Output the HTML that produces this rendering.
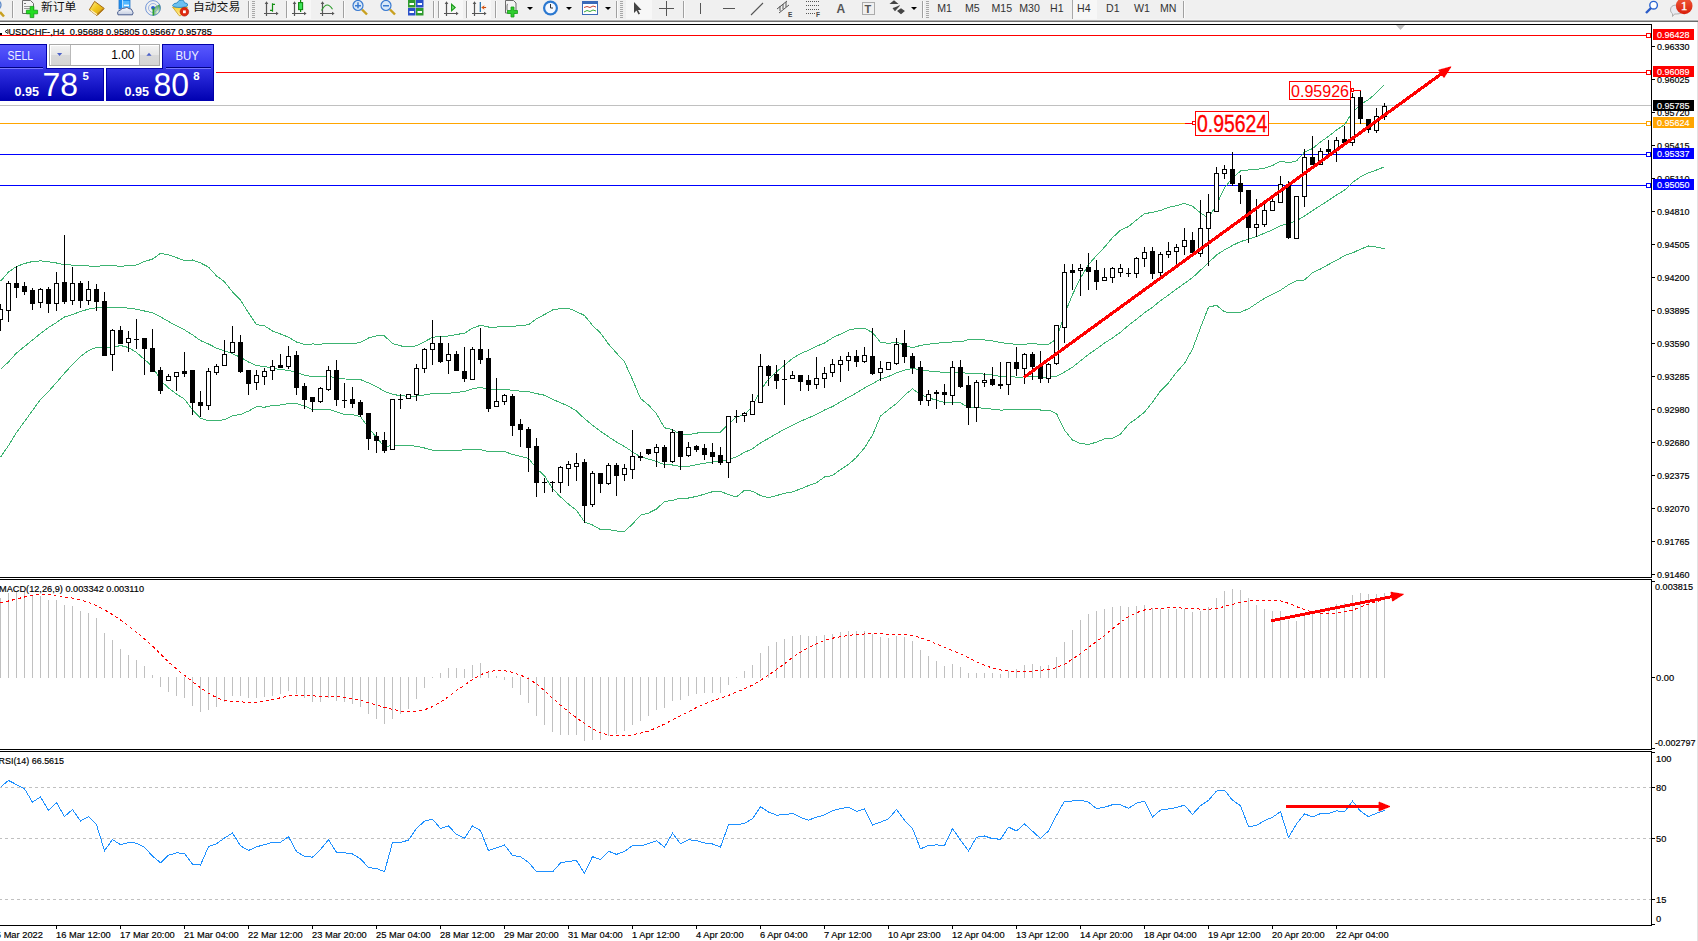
<!DOCTYPE html><html><head><meta charset="utf-8"><title>USDCHF-,H4</title><style>html,body{margin:0;padding:0;background:#fff;overflow:hidden;width:1698px;height:941px}svg text{white-space:pre}</style></head><body><svg width="1698" height="941" viewBox="0 0 1698 941" style="position:absolute;left:0;top:0">
<defs><linearGradient id="gTop" x1="0" y1="0" x2="0" y2="1"><stop offset="0" stop-color="#5a5aff"/><stop offset="1" stop-color="#3434ec"/></linearGradient><linearGradient id="gBot" x1="0" y1="0" x2="0" y2="1"><stop offset="0" stop-color="#3232e4"/><stop offset="1" stop-color="#0000b0"/></linearGradient><linearGradient id="gBtn" x1="0" y1="0" x2="0" y2="1"><stop offset="0" stop-color="#f2f2f2"/><stop offset="0.45" stop-color="#e6e6e6"/><stop offset="0.5" stop-color="#d9d9d9"/><stop offset="1" stop-color="#d4d4d4"/></linearGradient><linearGradient id="gBadge" x1="0" y1="0" x2="0" y2="1"><stop offset="0" stop-color="#f05a3a"/><stop offset="1" stop-color="#d81e0a"/></linearGradient><clipPath id="cMain"><rect x="0" y="25" width="1651" height="552"/></clipPath><clipPath id="cMacd"><rect x="0" y="580" width="1651" height="169"/></clipPath><clipPath id="cRsi"><rect x="0" y="752" width="1651" height="173"/></clipPath></defs>
<rect x="0" y="0" width="1698" height="941" fill="#ffffff"/>
<g shape-rendering="crispEdges">
<rect x="0" y="0" width="1698" height="20" fill="#f0f0f0"/>
<rect x="0" y="19" width="1698" height="1" fill="#f4f4f4"/>
<rect x="0" y="20" width="1698" height="1" fill="#b2b2b2"/>
<rect x="0" y="21" width="1698" height="1" fill="#6c6c6c"/>
<rect x="1697" y="22" width="1" height="919" fill="#e3e3e3"/>
</g>
<g shape-rendering="crispEdges">
<rect x="0" y="24" width="1652" height="1" fill="#000"/>
<rect x="0" y="577" width="1652" height="1" fill="#000"/>
<rect x="1651" y="24" width="1" height="554" fill="#000"/>
<rect x="0" y="579" width="1652" height="1" fill="#000"/>
<rect x="0" y="749" width="1652" height="1" fill="#000"/>
<rect x="1651" y="579" width="1" height="171" fill="#000"/>
<rect x="0" y="751" width="1652" height="1" fill="#000"/>
<rect x="0" y="925" width="1652" height="1" fill="#000"/>
<rect x="1651" y="751" width="1" height="175" fill="#000"/>
</g>
<g clip-path="url(#cMain)">
<g shape-rendering="crispEdges">
<rect x="0" y="35" width="1646" height="1" fill="#ff0000"/>
<rect x="1646.5" y="33.5" width="4" height="4" fill="#fff" stroke="#ff0000" stroke-width="1"/>
<rect x="0" y="72" width="1646" height="1" fill="#ff0000"/>
<rect x="1646.5" y="70.5" width="4" height="4" fill="#fff" stroke="#ff0000" stroke-width="1"/>
<rect x="0" y="105" width="1651" height="1" fill="#c0c0c0"/>
<rect x="0" y="123" width="1646" height="1" fill="#ffa500"/>
<rect x="1646.5" y="121.5" width="4" height="4" fill="#fff" stroke="#ffa500" stroke-width="1"/>
<rect x="0" y="154" width="1646" height="1" fill="#0000ff"/>
<rect x="1646.5" y="152.5" width="4" height="4" fill="#fff" stroke="#0000ff" stroke-width="1"/>
<rect x="0" y="185" width="1646" height="1" fill="#0000ff"/>
<rect x="1646.5" y="183.5" width="4" height="4" fill="#fff" stroke="#0000ff" stroke-width="1"/>
</g>
<polygon points="1396,25 1405,25 1400.5,30" fill="#c0c0c0"/>
<polyline points="0.5,281.3 8.5,272.0 16.5,266.5 24.5,263.5 32.5,261.5 40.5,260.9 48.5,261.7 56.5,263.0 64.5,264.7 72.5,265.1 80.5,265.5 88.5,266.0 96.5,266.5 104.5,265.5 112.5,265.5 120.5,266.5 128.5,265.5 136.5,265.0 144.5,261.5 152.5,259.1 160.5,253.4 168.5,254.9 176.5,257.6 184.5,260.7 192.5,260.0 200.5,262.9 208.5,267.1 216.5,275.9 224.5,281.8 232.5,291.8 240.5,300.1 248.5,312.8 256.5,324.7 264.5,325.8 272.5,331.0 280.5,334.0 288.5,337.2 296.5,342.0 304.5,344.4 312.5,344.0 320.5,344.1 328.5,343.7 336.5,343.6 344.5,343.7 352.5,343.6 360.5,342.5 368.5,338.0 376.5,335.9 384.5,336.0 392.5,343.4 400.5,345.9 408.5,346.8 416.5,345.8 424.5,341.7 432.5,337.3 440.5,336.4 448.5,336.0 456.5,334.5 464.5,333.2 472.5,328.1 480.5,325.3 488.5,327.0 496.5,327.0 504.5,326.9 512.5,326.3 520.5,325.6 528.5,324.7 536.5,318.8 544.5,314.5 552.5,310.0 560.5,308.5 568.5,308.3 576.5,311.6 584.5,315.5 592.5,325.4 600.5,333.0 608.5,344.1 616.5,353.1 624.5,361.8 632.5,379.7 640.5,398.5 648.5,405.0 656.5,413.8 664.5,427.8 672.5,429.6 680.5,434.7 688.5,434.7 696.5,433.1 704.5,432.4 712.5,432.3 720.5,432.1 728.5,423.9 736.5,417.0 744.5,414.5 752.5,406.3 760.5,390.3 768.5,379.2 776.5,371.7 784.5,365.1 792.5,358.4 800.5,353.7 808.5,350.2 816.5,346.1 824.5,343.1 832.5,337.8 840.5,334.1 848.5,330.2 856.5,328.5 864.5,328.2 872.5,332.6 880.5,342.3 888.5,343.3 896.5,342.3 904.5,345.0 912.5,347.9 920.5,345.4 928.5,344.2 936.5,343.3 944.5,342.5 952.5,342.0 960.5,341.9 968.5,339.7 976.5,339.7 984.5,339.9 992.5,340.9 1000.5,342.6 1008.5,343.5 1016.5,344.5 1024.5,344.2 1032.5,343.6 1040.5,344.3 1048.5,344.4 1056.5,339.0 1064.5,314.0 1072.5,294.6 1080.5,277.9 1088.5,264.7 1096.5,255.5 1104.5,247.2 1112.5,237.7 1120.5,230.1 1128.5,226.6 1136.5,220.0 1144.5,213.6 1152.5,212.4 1160.5,210.5 1168.5,207.3 1176.5,205.8 1184.5,203.3 1192.5,206.3 1200.5,212.8 1208.5,218.1 1216.5,204.7 1224.5,187.9 1232.5,178.0 1240.5,171.0 1248.5,169.9 1256.5,169.5 1264.5,168.1 1272.5,165.5 1280.5,161.1 1288.5,162.8 1296.5,160.9 1304.5,152.1 1312.5,148.6 1320.5,141.9 1328.5,136.4 1336.5,130.0 1344.5,124.8 1352.5,112.1 1360.5,104.6 1368.5,99.6 1376.5,92.8 1384.5,84.8" fill="none" stroke="#3cb371" stroke-width="1" shape-rendering="crispEdges"/>
<polyline points="0.5,369.3 8.5,362.0 16.5,353.0 24.5,346.5 32.5,340.0 40.5,333.5 48.5,327.5 56.5,322.5 64.5,317.0 72.5,314.5 80.5,311.5 88.5,309.1 96.5,307.7 104.5,307.3 112.5,307.3 120.5,307.7 128.5,308.1 136.5,309.3 144.5,311.0 152.5,312.9 160.5,316.9 168.5,321.5 176.5,325.8 184.5,329.9 192.5,334.8 200.5,340.6 208.5,344.0 216.5,348.1 224.5,350.8 232.5,353.7 240.5,357.3 248.5,362.0 256.5,365.6 264.5,366.5 272.5,368.3 280.5,369.5 288.5,370.4 296.5,372.7 304.5,375.2 312.5,376.7 320.5,376.7 328.5,376.4 336.5,377.7 344.5,379.0 352.5,379.1 360.5,379.6 368.5,382.9 376.5,386.6 384.5,391.4 392.5,394.3 400.5,395.7 408.5,396.3 416.5,396.0 424.5,394.9 432.5,393.7 440.5,393.4 448.5,393.3 456.5,392.5 464.5,391.5 472.5,388.9 480.5,387.4 488.5,389.3 496.5,389.5 504.5,389.2 512.5,390.4 520.5,391.1 528.5,391.5 536.5,393.6 544.5,395.2 552.5,399.3 560.5,402.7 568.5,406.2 576.5,411.0 584.5,418.7 592.5,425.2 600.5,431.3 608.5,436.8 616.5,442.0 624.5,446.5 632.5,451.9 640.5,456.8 648.5,459.1 656.5,461.4 664.5,464.7 672.5,465.0 680.5,466.4 688.5,466.4 696.5,464.7 704.5,463.3 712.5,462.0 720.5,461.7 728.5,459.3 736.5,456.9 744.5,452.3 752.5,448.8 760.5,442.9 768.5,438.4 776.5,433.7 784.5,429.2 792.5,425.1 800.5,421.3 808.5,417.9 816.5,414.4 824.5,410.0 832.5,406.6 840.5,401.8 848.5,397.3 856.5,392.9 864.5,388.0 872.5,383.8 880.5,379.2 888.5,376.5 896.5,372.9 904.5,370.1 912.5,368.4 920.5,370.0 928.5,371.0 936.5,371.7 944.5,372.5 952.5,372.1 960.5,372.4 968.5,373.5 976.5,373.7 984.5,374.1 992.5,375.1 1000.5,376.4 1008.5,376.7 1016.5,377.1 1024.5,377.0 1032.5,376.6 1040.5,377.1 1048.5,377.2 1056.5,376.3 1064.5,372.1 1072.5,367.3 1080.5,360.7 1088.5,354.5 1096.5,348.9 1104.5,343.0 1112.5,338.0 1120.5,332.2 1128.5,325.4 1136.5,319.2 1144.5,312.8 1152.5,307.2 1160.5,300.7 1168.5,295.1 1176.5,289.1 1184.5,283.4 1192.5,277.7 1200.5,270.2 1208.5,262.6 1216.5,255.0 1224.5,249.9 1232.5,245.4 1240.5,241.6 1248.5,239.3 1256.5,236.5 1264.5,233.2 1272.5,229.9 1280.5,225.7 1288.5,223.8 1296.5,220.8 1304.5,216.0 1312.5,210.6 1320.5,205.5 1328.5,200.4 1336.5,195.1 1344.5,190.2 1352.5,182.5 1360.5,176.9 1368.5,172.8 1376.5,170.0 1384.5,166.8" fill="none" stroke="#3cb371" stroke-width="1" shape-rendering="crispEdges"/>
<polyline points="0.5,457.3 8.5,445.5 16.5,432.5 24.5,421.5 32.5,410.5 40.5,399.5 48.5,391.5 56.5,382.5 64.5,373.2 72.5,364.5 80.5,356.5 88.5,350.5 96.5,347.3 104.5,347.5 112.5,347.5 120.5,345.5 128.5,347.5 136.5,352.5 144.5,359.5 152.5,366.6 160.5,380.3 168.5,388.1 176.5,394.0 184.5,399.1 192.5,409.7 200.5,418.3 208.5,420.9 216.5,420.4 224.5,419.8 232.5,415.7 240.5,414.5 248.5,411.1 256.5,406.6 264.5,407.2 272.5,405.6 280.5,405.0 288.5,403.5 296.5,403.5 304.5,406.0 312.5,409.5 320.5,409.3 328.5,409.1 336.5,411.8 344.5,414.4 352.5,414.6 360.5,416.6 368.5,427.7 376.5,437.4 384.5,446.9 392.5,445.2 400.5,445.6 408.5,445.8 416.5,446.1 424.5,448.0 432.5,450.1 440.5,450.4 448.5,450.6 456.5,450.6 464.5,449.8 472.5,449.7 480.5,449.6 488.5,451.7 496.5,451.9 504.5,451.6 512.5,454.4 520.5,456.5 528.5,458.3 536.5,468.4 544.5,475.8 552.5,488.6 560.5,496.9 568.5,504.1 576.5,510.3 584.5,521.9 592.5,525.0 600.5,529.6 608.5,529.6 616.5,531.0 624.5,531.3 632.5,524.1 640.5,515.2 648.5,513.1 656.5,509.0 664.5,501.5 672.5,500.4 680.5,498.0 688.5,498.0 696.5,496.4 704.5,494.2 712.5,491.7 720.5,491.3 728.5,494.7 736.5,496.9 744.5,490.2 752.5,491.2 760.5,495.6 768.5,497.7 776.5,495.6 784.5,493.2 792.5,491.9 800.5,488.9 808.5,485.6 816.5,482.7 824.5,477.0 832.5,475.5 840.5,469.6 848.5,464.4 856.5,457.3 864.5,447.8 872.5,435.1 880.5,416.1 888.5,409.6 896.5,403.5 904.5,395.2 912.5,388.8 920.5,394.7 928.5,397.9 936.5,400.1 944.5,402.6 952.5,402.2 960.5,402.9 968.5,407.4 976.5,407.8 984.5,408.2 992.5,409.2 1000.5,410.1 1008.5,409.8 1016.5,409.6 1024.5,409.7 1032.5,409.7 1040.5,410.0 1048.5,410.0 1056.5,413.5 1064.5,430.1 1072.5,440.0 1080.5,443.5 1088.5,444.4 1096.5,442.2 1104.5,438.8 1112.5,438.3 1120.5,434.2 1128.5,424.3 1136.5,418.5 1144.5,412.1 1152.5,402.1 1160.5,390.9 1168.5,383.0 1176.5,372.3 1184.5,363.4 1192.5,349.1 1200.5,327.7 1208.5,307.2 1216.5,305.3 1224.5,311.8 1232.5,312.8 1240.5,312.1 1248.5,308.8 1256.5,303.5 1264.5,298.3 1272.5,294.2 1280.5,290.2 1288.5,284.8 1296.5,280.7 1304.5,280.0 1312.5,272.6 1320.5,269.0 1328.5,264.5 1336.5,260.3 1344.5,255.6 1352.5,252.9 1360.5,249.2 1368.5,246.0 1376.5,247.1 1384.5,248.8" fill="none" stroke="#3cb371" stroke-width="1" shape-rendering="crispEdges"/>
<g shape-rendering="crispEdges">
<rect x="0" y="304" width="1" height="27" fill="#000"/>
<rect x="-2" y="309" width="5" height="11" fill="#000"/>
<rect x="-1" y="310" width="3" height="9" fill="#fff"/>
<rect x="8" y="281" width="1" height="41" fill="#000"/>
<rect x="6" y="283" width="5" height="28" fill="#000"/>
<rect x="7" y="284" width="3" height="26" fill="#fff"/>
<rect x="16" y="266" width="1" height="32" fill="#000"/>
<rect x="14" y="283" width="5" height="5" fill="#000"/>
<rect x="24" y="282" width="1" height="13" fill="#000"/>
<rect x="22" y="286" width="5" height="6" fill="#000"/>
<rect x="32" y="288" width="1" height="22" fill="#000"/>
<rect x="30" y="290" width="5" height="14" fill="#000"/>
<rect x="40" y="288" width="1" height="20" fill="#000"/>
<rect x="38" y="289" width="5" height="14" fill="#000"/>
<rect x="39" y="290" width="3" height="12" fill="#fff"/>
<rect x="48" y="287" width="1" height="26" fill="#000"/>
<rect x="46" y="289" width="5" height="15" fill="#000"/>
<rect x="56" y="272" width="1" height="39" fill="#000"/>
<rect x="54" y="283" width="5" height="21" fill="#000"/>
<rect x="55" y="284" width="3" height="19" fill="#fff"/>
<rect x="64" y="235" width="1" height="69" fill="#000"/>
<rect x="62" y="282" width="5" height="20" fill="#000"/>
<rect x="72" y="267" width="1" height="38" fill="#000"/>
<rect x="70" y="283" width="5" height="18" fill="#000"/>
<rect x="71" y="284" width="3" height="16" fill="#fff"/>
<rect x="80" y="281" width="1" height="27" fill="#000"/>
<rect x="78" y="283" width="5" height="18" fill="#000"/>
<rect x="88" y="281" width="1" height="24" fill="#000"/>
<rect x="86" y="289" width="5" height="12" fill="#000"/>
<rect x="87" y="290" width="3" height="10" fill="#fff"/>
<rect x="96" y="284" width="1" height="27" fill="#000"/>
<rect x="94" y="289" width="5" height="13" fill="#000"/>
<rect x="104" y="292" width="1" height="64" fill="#000"/>
<rect x="102" y="301" width="5" height="55" fill="#000"/>
<rect x="112" y="329" width="1" height="42" fill="#000"/>
<rect x="110" y="330" width="5" height="25" fill="#000"/>
<rect x="111" y="331" width="3" height="23" fill="#fff"/>
<rect x="120" y="326" width="1" height="18" fill="#000"/>
<rect x="118" y="330" width="5" height="14" fill="#000"/>
<rect x="128" y="331" width="1" height="21" fill="#000"/>
<rect x="126" y="338" width="5" height="5" fill="#000"/>
<rect x="127" y="339" width="3" height="3" fill="#fff"/>
<rect x="136" y="319" width="1" height="30" fill="#000"/>
<rect x="134" y="339" width="5" height="1" fill="#000"/>
<rect x="144" y="338" width="1" height="37" fill="#000"/>
<rect x="142" y="338" width="5" height="11" fill="#000"/>
<rect x="152" y="329" width="1" height="43" fill="#000"/>
<rect x="150" y="348" width="5" height="24" fill="#000"/>
<rect x="160" y="367" width="1" height="27" fill="#000"/>
<rect x="158" y="370" width="5" height="21" fill="#000"/>
<rect x="168" y="374" width="1" height="7" fill="#000"/>
<rect x="166" y="376" width="5" height="5" fill="#000"/>
<rect x="167" y="377" width="3" height="3" fill="#fff"/>
<rect x="176" y="372" width="1" height="19" fill="#000"/>
<rect x="174" y="372" width="5" height="5" fill="#000"/>
<rect x="175" y="373" width="3" height="3" fill="#fff"/>
<rect x="184" y="352" width="1" height="25" fill="#000"/>
<rect x="182" y="371" width="5" height="3" fill="#000"/>
<rect x="192" y="370" width="1" height="45" fill="#000"/>
<rect x="190" y="370" width="5" height="33" fill="#000"/>
<rect x="200" y="391" width="1" height="26" fill="#000"/>
<rect x="198" y="402" width="5" height="4" fill="#000"/>
<rect x="208" y="368" width="1" height="42" fill="#000"/>
<rect x="206" y="371" width="5" height="35" fill="#000"/>
<rect x="207" y="372" width="3" height="33" fill="#fff"/>
<rect x="216" y="364" width="1" height="11" fill="#000"/>
<rect x="214" y="366" width="5" height="7" fill="#000"/>
<rect x="215" y="367" width="3" height="5" fill="#fff"/>
<rect x="224" y="340" width="1" height="26" fill="#000"/>
<rect x="222" y="354" width="5" height="12" fill="#000"/>
<rect x="223" y="355" width="3" height="10" fill="#fff"/>
<rect x="232" y="326" width="1" height="27" fill="#000"/>
<rect x="230" y="342" width="5" height="11" fill="#000"/>
<rect x="231" y="343" width="3" height="9" fill="#fff"/>
<rect x="240" y="335" width="1" height="38" fill="#000"/>
<rect x="238" y="342" width="5" height="30" fill="#000"/>
<rect x="248" y="370" width="1" height="25" fill="#000"/>
<rect x="246" y="370" width="5" height="14" fill="#000"/>
<rect x="256" y="370" width="1" height="20" fill="#000"/>
<rect x="254" y="375" width="5" height="8" fill="#000"/>
<rect x="255" y="376" width="3" height="6" fill="#fff"/>
<rect x="264" y="368" width="1" height="17" fill="#000"/>
<rect x="262" y="371" width="5" height="6" fill="#000"/>
<rect x="263" y="372" width="3" height="4" fill="#fff"/>
<rect x="272" y="360" width="1" height="20" fill="#000"/>
<rect x="270" y="366" width="5" height="5" fill="#000"/>
<rect x="271" y="367" width="3" height="3" fill="#fff"/>
<rect x="280" y="354" width="1" height="14" fill="#000"/>
<rect x="278" y="365" width="5" height="3" fill="#000"/>
<rect x="288" y="346" width="1" height="23" fill="#000"/>
<rect x="286" y="356" width="5" height="11" fill="#000"/>
<rect x="287" y="357" width="3" height="9" fill="#fff"/>
<rect x="296" y="351" width="1" height="44" fill="#000"/>
<rect x="294" y="355" width="5" height="33" fill="#000"/>
<rect x="304" y="383" width="1" height="26" fill="#000"/>
<rect x="302" y="386" width="5" height="14" fill="#000"/>
<rect x="312" y="397" width="1" height="15" fill="#000"/>
<rect x="310" y="397" width="5" height="5" fill="#000"/>
<rect x="320" y="387" width="1" height="16" fill="#000"/>
<rect x="318" y="388" width="5" height="14" fill="#000"/>
<rect x="319" y="389" width="3" height="12" fill="#fff"/>
<rect x="328" y="366" width="1" height="25" fill="#000"/>
<rect x="326" y="370" width="5" height="20" fill="#000"/>
<rect x="327" y="371" width="3" height="18" fill="#fff"/>
<rect x="336" y="360" width="1" height="46" fill="#000"/>
<rect x="334" y="370" width="5" height="30" fill="#000"/>
<rect x="344" y="383" width="1" height="25" fill="#000"/>
<rect x="342" y="400" width="5" height="1" fill="#000"/>
<rect x="352" y="387" width="1" height="21" fill="#000"/>
<rect x="350" y="399" width="5" height="5" fill="#000"/>
<rect x="360" y="400" width="1" height="17" fill="#000"/>
<rect x="358" y="402" width="5" height="13" fill="#000"/>
<rect x="368" y="413" width="1" height="37" fill="#000"/>
<rect x="366" y="413" width="5" height="26" fill="#000"/>
<rect x="376" y="432" width="1" height="21" fill="#000"/>
<rect x="374" y="436" width="5" height="5" fill="#000"/>
<rect x="384" y="432" width="1" height="21" fill="#000"/>
<rect x="382" y="440" width="5" height="11" fill="#000"/>
<rect x="392" y="399" width="1" height="51" fill="#000"/>
<rect x="390" y="399" width="5" height="51" fill="#000"/>
<rect x="391" y="400" width="3" height="49" fill="#fff"/>
<rect x="400" y="394" width="1" height="15" fill="#000"/>
<rect x="398" y="399" width="5" height="1" fill="#000"/>
<rect x="408" y="394" width="1" height="5" fill="#000"/>
<rect x="406" y="394" width="5" height="5" fill="#000"/>
<rect x="407" y="395" width="3" height="3" fill="#fff"/>
<rect x="416" y="364" width="1" height="37" fill="#000"/>
<rect x="414" y="368" width="5" height="27" fill="#000"/>
<rect x="415" y="369" width="3" height="25" fill="#fff"/>
<rect x="424" y="348" width="1" height="25" fill="#000"/>
<rect x="422" y="349" width="5" height="20" fill="#000"/>
<rect x="423" y="350" width="3" height="18" fill="#fff"/>
<rect x="432" y="320" width="1" height="45" fill="#000"/>
<rect x="430" y="343" width="5" height="7" fill="#000"/>
<rect x="431" y="344" width="3" height="5" fill="#fff"/>
<rect x="440" y="336" width="1" height="27" fill="#000"/>
<rect x="438" y="343" width="5" height="19" fill="#000"/>
<rect x="448" y="343" width="1" height="31" fill="#000"/>
<rect x="446" y="354" width="5" height="7" fill="#000"/>
<rect x="447" y="355" width="3" height="5" fill="#fff"/>
<rect x="456" y="351" width="1" height="20" fill="#000"/>
<rect x="454" y="354" width="5" height="17" fill="#000"/>
<rect x="464" y="347" width="1" height="35" fill="#000"/>
<rect x="462" y="371" width="5" height="8" fill="#000"/>
<rect x="472" y="347" width="1" height="33" fill="#000"/>
<rect x="470" y="349" width="5" height="31" fill="#000"/>
<rect x="471" y="350" width="3" height="29" fill="#fff"/>
<rect x="480" y="328" width="1" height="36" fill="#000"/>
<rect x="478" y="349" width="5" height="11" fill="#000"/>
<rect x="488" y="349" width="1" height="63" fill="#000"/>
<rect x="486" y="358" width="5" height="51" fill="#000"/>
<rect x="496" y="378" width="1" height="29" fill="#000"/>
<rect x="494" y="401" width="5" height="6" fill="#000"/>
<rect x="495" y="402" width="3" height="4" fill="#fff"/>
<rect x="504" y="394" width="1" height="11" fill="#000"/>
<rect x="502" y="395" width="5" height="7" fill="#000"/>
<rect x="503" y="396" width="3" height="5" fill="#fff"/>
<rect x="512" y="394" width="1" height="42" fill="#000"/>
<rect x="510" y="396" width="5" height="30" fill="#000"/>
<rect x="520" y="419" width="1" height="28" fill="#000"/>
<rect x="518" y="424" width="5" height="6" fill="#000"/>
<rect x="528" y="427" width="1" height="45" fill="#000"/>
<rect x="526" y="429" width="5" height="19" fill="#000"/>
<rect x="536" y="438" width="1" height="59" fill="#000"/>
<rect x="534" y="446" width="5" height="37" fill="#000"/>
<rect x="544" y="478" width="1" height="15" fill="#000"/>
<rect x="542" y="482" width="5" height="1" fill="#000"/>
<rect x="552" y="481" width="1" height="11" fill="#000"/>
<rect x="550" y="482" width="5" height="1" fill="#000"/>
<rect x="560" y="466" width="1" height="27" fill="#000"/>
<rect x="558" y="467" width="5" height="16" fill="#000"/>
<rect x="559" y="468" width="3" height="14" fill="#fff"/>
<rect x="568" y="461" width="1" height="25" fill="#000"/>
<rect x="566" y="464" width="5" height="5" fill="#000"/>
<rect x="567" y="465" width="3" height="3" fill="#fff"/>
<rect x="576" y="453" width="1" height="28" fill="#000"/>
<rect x="574" y="463" width="5" height="4" fill="#000"/>
<rect x="575" y="464" width="3" height="2" fill="#fff"/>
<rect x="584" y="459" width="1" height="64" fill="#000"/>
<rect x="582" y="462" width="5" height="44" fill="#000"/>
<rect x="592" y="471" width="1" height="36" fill="#000"/>
<rect x="590" y="473" width="5" height="32" fill="#000"/>
<rect x="591" y="474" width="3" height="30" fill="#fff"/>
<rect x="600" y="473" width="1" height="20" fill="#000"/>
<rect x="598" y="473" width="5" height="11" fill="#000"/>
<rect x="608" y="463" width="1" height="22" fill="#000"/>
<rect x="606" y="465" width="5" height="19" fill="#000"/>
<rect x="607" y="466" width="3" height="17" fill="#fff"/>
<rect x="616" y="463" width="1" height="33" fill="#000"/>
<rect x="614" y="465" width="5" height="11" fill="#000"/>
<rect x="624" y="464" width="1" height="17" fill="#000"/>
<rect x="622" y="468" width="5" height="7" fill="#000"/>
<rect x="623" y="469" width="3" height="5" fill="#fff"/>
<rect x="632" y="430" width="1" height="49" fill="#000"/>
<rect x="630" y="456" width="5" height="14" fill="#000"/>
<rect x="631" y="457" width="3" height="12" fill="#fff"/>
<rect x="640" y="452" width="1" height="9" fill="#000"/>
<rect x="638" y="456" width="5" height="2" fill="#000"/>
<rect x="648" y="449" width="1" height="6" fill="#000"/>
<rect x="646" y="449" width="5" height="5" fill="#000"/>
<rect x="656" y="444" width="1" height="23" fill="#000"/>
<rect x="654" y="447" width="5" height="6" fill="#000"/>
<rect x="655" y="448" width="3" height="4" fill="#fff"/>
<rect x="664" y="445" width="1" height="23" fill="#000"/>
<rect x="662" y="447" width="5" height="15" fill="#000"/>
<rect x="672" y="429" width="1" height="34" fill="#000"/>
<rect x="670" y="432" width="5" height="30" fill="#000"/>
<rect x="671" y="433" width="3" height="28" fill="#fff"/>
<rect x="680" y="431" width="1" height="39" fill="#000"/>
<rect x="678" y="431" width="5" height="26" fill="#000"/>
<rect x="688" y="442" width="1" height="15" fill="#000"/>
<rect x="686" y="447" width="5" height="9" fill="#000"/>
<rect x="687" y="448" width="3" height="7" fill="#fff"/>
<rect x="696" y="445" width="1" height="7" fill="#000"/>
<rect x="694" y="446" width="5" height="4" fill="#000"/>
<rect x="704" y="444" width="1" height="16" fill="#000"/>
<rect x="702" y="448" width="5" height="7" fill="#000"/>
<rect x="712" y="443" width="1" height="21" fill="#000"/>
<rect x="710" y="452" width="5" height="5" fill="#000"/>
<rect x="720" y="447" width="1" height="18" fill="#000"/>
<rect x="718" y="455" width="5" height="8" fill="#000"/>
<rect x="728" y="416" width="1" height="62" fill="#000"/>
<rect x="726" y="416" width="5" height="47" fill="#000"/>
<rect x="727" y="417" width="3" height="45" fill="#fff"/>
<rect x="736" y="410" width="1" height="13" fill="#000"/>
<rect x="734" y="416" width="5" height="1" fill="#000"/>
<rect x="744" y="412" width="1" height="10" fill="#000"/>
<rect x="742" y="413" width="5" height="3" fill="#000"/>
<rect x="743" y="414" width="3" height="1" fill="#fff"/>
<rect x="752" y="394" width="1" height="21" fill="#000"/>
<rect x="750" y="401" width="5" height="14" fill="#000"/>
<rect x="751" y="402" width="3" height="12" fill="#fff"/>
<rect x="760" y="354" width="1" height="49" fill="#000"/>
<rect x="758" y="366" width="5" height="37" fill="#000"/>
<rect x="759" y="367" width="3" height="35" fill="#fff"/>
<rect x="768" y="365" width="1" height="21" fill="#000"/>
<rect x="766" y="366" width="5" height="10" fill="#000"/>
<rect x="776" y="365" width="1" height="24" fill="#000"/>
<rect x="774" y="374" width="5" height="7" fill="#000"/>
<rect x="784" y="360" width="1" height="45" fill="#000"/>
<rect x="782" y="379" width="5" height="1" fill="#000"/>
<rect x="792" y="371" width="1" height="8" fill="#000"/>
<rect x="790" y="375" width="5" height="4" fill="#000"/>
<rect x="791" y="376" width="3" height="2" fill="#fff"/>
<rect x="800" y="375" width="1" height="16" fill="#000"/>
<rect x="798" y="375" width="5" height="7" fill="#000"/>
<rect x="808" y="375" width="1" height="16" fill="#000"/>
<rect x="806" y="380" width="5" height="5" fill="#000"/>
<rect x="816" y="357" width="1" height="32" fill="#000"/>
<rect x="814" y="378" width="5" height="7" fill="#000"/>
<rect x="815" y="379" width="3" height="5" fill="#fff"/>
<rect x="824" y="367" width="1" height="21" fill="#000"/>
<rect x="822" y="373" width="5" height="6" fill="#000"/>
<rect x="823" y="374" width="3" height="4" fill="#fff"/>
<rect x="832" y="359" width="1" height="18" fill="#000"/>
<rect x="830" y="364" width="5" height="9" fill="#000"/>
<rect x="831" y="365" width="3" height="7" fill="#fff"/>
<rect x="840" y="356" width="1" height="26" fill="#000"/>
<rect x="838" y="360" width="5" height="5" fill="#000"/>
<rect x="839" y="361" width="3" height="3" fill="#fff"/>
<rect x="848" y="352" width="1" height="19" fill="#000"/>
<rect x="846" y="356" width="5" height="5" fill="#000"/>
<rect x="847" y="357" width="3" height="3" fill="#fff"/>
<rect x="856" y="350" width="1" height="17" fill="#000"/>
<rect x="854" y="356" width="5" height="6" fill="#000"/>
<rect x="864" y="347" width="1" height="16" fill="#000"/>
<rect x="862" y="355" width="5" height="7" fill="#000"/>
<rect x="863" y="356" width="3" height="5" fill="#fff"/>
<rect x="872" y="328" width="1" height="47" fill="#000"/>
<rect x="870" y="356" width="5" height="18" fill="#000"/>
<rect x="880" y="361" width="1" height="20" fill="#000"/>
<rect x="878" y="368" width="5" height="5" fill="#000"/>
<rect x="879" y="369" width="3" height="3" fill="#fff"/>
<rect x="888" y="362" width="1" height="8" fill="#000"/>
<rect x="886" y="362" width="5" height="8" fill="#000"/>
<rect x="887" y="363" width="3" height="6" fill="#fff"/>
<rect x="896" y="338" width="1" height="27" fill="#000"/>
<rect x="894" y="344" width="5" height="20" fill="#000"/>
<rect x="895" y="345" width="3" height="18" fill="#fff"/>
<rect x="904" y="330" width="1" height="33" fill="#000"/>
<rect x="902" y="343" width="5" height="14" fill="#000"/>
<rect x="912" y="353" width="1" height="21" fill="#000"/>
<rect x="910" y="356" width="5" height="12" fill="#000"/>
<rect x="920" y="361" width="1" height="44" fill="#000"/>
<rect x="918" y="367" width="5" height="34" fill="#000"/>
<rect x="928" y="390" width="1" height="16" fill="#000"/>
<rect x="926" y="394" width="5" height="7" fill="#000"/>
<rect x="927" y="395" width="3" height="5" fill="#fff"/>
<rect x="936" y="390" width="1" height="19" fill="#000"/>
<rect x="934" y="392" width="5" height="2" fill="#000"/>
<rect x="944" y="384" width="1" height="21" fill="#000"/>
<rect x="942" y="392" width="5" height="3" fill="#000"/>
<rect x="952" y="361" width="1" height="44" fill="#000"/>
<rect x="950" y="367" width="5" height="29" fill="#000"/>
<rect x="951" y="368" width="3" height="27" fill="#fff"/>
<rect x="960" y="360" width="1" height="28" fill="#000"/>
<rect x="958" y="367" width="5" height="20" fill="#000"/>
<rect x="968" y="376" width="1" height="49" fill="#000"/>
<rect x="966" y="385" width="5" height="23" fill="#000"/>
<rect x="976" y="380" width="1" height="42" fill="#000"/>
<rect x="974" y="382" width="5" height="26" fill="#000"/>
<rect x="975" y="383" width="3" height="24" fill="#fff"/>
<rect x="984" y="373" width="1" height="14" fill="#000"/>
<rect x="982" y="380" width="5" height="3" fill="#000"/>
<rect x="983" y="381" width="3" height="1" fill="#fff"/>
<rect x="992" y="367" width="1" height="19" fill="#000"/>
<rect x="990" y="379" width="5" height="6" fill="#000"/>
<rect x="1000" y="362" width="1" height="27" fill="#000"/>
<rect x="998" y="384" width="5" height="2" fill="#000"/>
<rect x="1008" y="362" width="1" height="33" fill="#000"/>
<rect x="1006" y="362" width="5" height="23" fill="#000"/>
<rect x="1007" y="363" width="3" height="21" fill="#fff"/>
<rect x="1016" y="347" width="1" height="29" fill="#000"/>
<rect x="1014" y="362" width="5" height="7" fill="#000"/>
<rect x="1024" y="353" width="1" height="31" fill="#000"/>
<rect x="1022" y="354" width="5" height="15" fill="#000"/>
<rect x="1023" y="355" width="3" height="13" fill="#fff"/>
<rect x="1032" y="352" width="1" height="28" fill="#000"/>
<rect x="1030" y="354" width="5" height="13" fill="#000"/>
<rect x="1040" y="351" width="1" height="32" fill="#000"/>
<rect x="1038" y="366" width="5" height="13" fill="#000"/>
<rect x="1048" y="363" width="1" height="20" fill="#000"/>
<rect x="1046" y="364" width="5" height="15" fill="#000"/>
<rect x="1047" y="365" width="3" height="13" fill="#fff"/>
<rect x="1056" y="325" width="1" height="40" fill="#000"/>
<rect x="1054" y="325" width="5" height="39" fill="#000"/>
<rect x="1055" y="326" width="3" height="37" fill="#fff"/>
<rect x="1064" y="264" width="1" height="79" fill="#000"/>
<rect x="1062" y="272" width="5" height="56" fill="#000"/>
<rect x="1063" y="273" width="3" height="54" fill="#fff"/>
<rect x="1072" y="264" width="1" height="26" fill="#000"/>
<rect x="1070" y="270" width="5" height="3" fill="#000"/>
<rect x="1080" y="264" width="1" height="32" fill="#000"/>
<rect x="1078" y="268" width="5" height="3" fill="#000"/>
<rect x="1079" y="269" width="3" height="1" fill="#fff"/>
<rect x="1088" y="253" width="1" height="37" fill="#000"/>
<rect x="1086" y="267" width="5" height="5" fill="#000"/>
<rect x="1096" y="260" width="1" height="30" fill="#000"/>
<rect x="1094" y="270" width="5" height="12" fill="#000"/>
<rect x="1104" y="268" width="1" height="13" fill="#000"/>
<rect x="1102" y="277" width="5" height="4" fill="#000"/>
<rect x="1103" y="278" width="3" height="2" fill="#fff"/>
<rect x="1112" y="267" width="1" height="16" fill="#000"/>
<rect x="1110" y="268" width="5" height="10" fill="#000"/>
<rect x="1111" y="269" width="3" height="8" fill="#fff"/>
<rect x="1120" y="264" width="1" height="13" fill="#000"/>
<rect x="1118" y="268" width="5" height="5" fill="#000"/>
<rect x="1119" y="269" width="3" height="3" fill="#fff"/>
<rect x="1128" y="268" width="1" height="9" fill="#000"/>
<rect x="1126" y="273" width="5" height="1" fill="#000"/>
<rect x="1136" y="257" width="1" height="21" fill="#000"/>
<rect x="1134" y="258" width="5" height="16" fill="#000"/>
<rect x="1135" y="259" width="3" height="14" fill="#fff"/>
<rect x="1144" y="247" width="1" height="20" fill="#000"/>
<rect x="1142" y="252" width="5" height="7" fill="#000"/>
<rect x="1143" y="253" width="3" height="5" fill="#fff"/>
<rect x="1152" y="247" width="1" height="32" fill="#000"/>
<rect x="1150" y="251" width="5" height="23" fill="#000"/>
<rect x="1160" y="252" width="1" height="27" fill="#000"/>
<rect x="1158" y="254" width="5" height="19" fill="#000"/>
<rect x="1159" y="255" width="3" height="17" fill="#fff"/>
<rect x="1168" y="242" width="1" height="16" fill="#000"/>
<rect x="1166" y="251" width="5" height="4" fill="#000"/>
<rect x="1167" y="252" width="3" height="2" fill="#fff"/>
<rect x="1176" y="244" width="1" height="22" fill="#000"/>
<rect x="1174" y="247" width="5" height="5" fill="#000"/>
<rect x="1175" y="248" width="3" height="3" fill="#fff"/>
<rect x="1184" y="228" width="1" height="27" fill="#000"/>
<rect x="1182" y="240" width="5" height="7" fill="#000"/>
<rect x="1183" y="241" width="3" height="5" fill="#fff"/>
<rect x="1192" y="232" width="1" height="21" fill="#000"/>
<rect x="1190" y="240" width="5" height="13" fill="#000"/>
<rect x="1200" y="200" width="1" height="57" fill="#000"/>
<rect x="1198" y="228" width="5" height="26" fill="#000"/>
<rect x="1199" y="229" width="3" height="24" fill="#fff"/>
<rect x="1208" y="194" width="1" height="72" fill="#000"/>
<rect x="1206" y="212" width="5" height="17" fill="#000"/>
<rect x="1207" y="213" width="3" height="15" fill="#fff"/>
<rect x="1216" y="167" width="1" height="45" fill="#000"/>
<rect x="1214" y="173" width="5" height="39" fill="#000"/>
<rect x="1215" y="174" width="3" height="37" fill="#fff"/>
<rect x="1224" y="165" width="1" height="14" fill="#000"/>
<rect x="1222" y="169" width="5" height="5" fill="#000"/>
<rect x="1223" y="170" width="3" height="3" fill="#fff"/>
<rect x="1232" y="152" width="1" height="34" fill="#000"/>
<rect x="1230" y="169" width="5" height="15" fill="#000"/>
<rect x="1240" y="175" width="1" height="29" fill="#000"/>
<rect x="1238" y="183" width="5" height="9" fill="#000"/>
<rect x="1248" y="190" width="1" height="53" fill="#000"/>
<rect x="1246" y="190" width="5" height="38" fill="#000"/>
<rect x="1256" y="199" width="1" height="38" fill="#000"/>
<rect x="1254" y="224" width="5" height="4" fill="#000"/>
<rect x="1255" y="225" width="3" height="2" fill="#fff"/>
<rect x="1264" y="203" width="1" height="24" fill="#000"/>
<rect x="1262" y="210" width="5" height="15" fill="#000"/>
<rect x="1263" y="211" width="3" height="13" fill="#fff"/>
<rect x="1272" y="199" width="1" height="12" fill="#000"/>
<rect x="1270" y="201" width="5" height="10" fill="#000"/>
<rect x="1271" y="202" width="3" height="8" fill="#fff"/>
<rect x="1280" y="176" width="1" height="27" fill="#000"/>
<rect x="1278" y="184" width="5" height="19" fill="#000"/>
<rect x="1279" y="185" width="3" height="17" fill="#fff"/>
<rect x="1288" y="181" width="1" height="58" fill="#000"/>
<rect x="1286" y="185" width="5" height="53" fill="#000"/>
<rect x="1296" y="196" width="1" height="43" fill="#000"/>
<rect x="1294" y="196" width="5" height="43" fill="#000"/>
<rect x="1295" y="197" width="3" height="41" fill="#fff"/>
<rect x="1304" y="149" width="1" height="58" fill="#000"/>
<rect x="1302" y="157" width="5" height="40" fill="#000"/>
<rect x="1303" y="158" width="3" height="38" fill="#fff"/>
<rect x="1312" y="136" width="1" height="29" fill="#000"/>
<rect x="1310" y="157" width="5" height="8" fill="#000"/>
<rect x="1320" y="148" width="1" height="17" fill="#000"/>
<rect x="1318" y="151" width="5" height="14" fill="#000"/>
<rect x="1319" y="152" width="3" height="12" fill="#fff"/>
<rect x="1328" y="140" width="1" height="15" fill="#000"/>
<rect x="1326" y="149" width="5" height="3" fill="#000"/>
<rect x="1336" y="137" width="1" height="25" fill="#000"/>
<rect x="1334" y="140" width="5" height="10" fill="#000"/>
<rect x="1335" y="141" width="3" height="8" fill="#fff"/>
<rect x="1344" y="126" width="1" height="17" fill="#000"/>
<rect x="1342" y="139" width="5" height="4" fill="#000"/>
<rect x="1352" y="93" width="1" height="53" fill="#000"/>
<rect x="1350" y="97" width="5" height="46" fill="#000"/>
<rect x="1351" y="98" width="3" height="44" fill="#fff"/>
<rect x="1360" y="91" width="1" height="33" fill="#000"/>
<rect x="1358" y="97" width="5" height="22" fill="#000"/>
<rect x="1368" y="119" width="1" height="14" fill="#000"/>
<rect x="1366" y="119" width="5" height="11" fill="#000"/>
<rect x="1376" y="108" width="1" height="25" fill="#000"/>
<rect x="1374" y="116" width="5" height="15" fill="#000"/>
<rect x="1375" y="117" width="3" height="13" fill="#fff"/>
<rect x="1384" y="103" width="1" height="17" fill="#000"/>
<rect x="1382" y="106" width="5" height="11" fill="#000"/>
<rect x="1383" y="107" width="3" height="9" fill="#fff"/>
</g>
</g>
<g clip-path="url(#cMain)">
<line x1="1025" y1="376.6" x2="1442.9" y2="72.7" stroke="#ff0000" stroke-width="3.2" stroke-linecap="round" shape-rendering="crispEdges"/>
<polygon points="1451,66.8 1444.0,77.6 1438.6,70.1" fill="#ff0000" stroke="#ff0000" stroke-width="0.8" stroke-linejoin="round" shape-rendering="crispEdges"/>
<g shape-rendering="crispEdges">
<rect x="1195.5" y="111.5" width="73" height="24" fill="#fff" stroke="#ff0000" stroke-width="1"/>
<rect x="1185" y="123" width="8" height="1" fill="#ff0000"/>
<rect x="1192.5" y="121.5" width="3" height="3" fill="#fff" stroke="#ff0000" stroke-width="1"/>
<rect x="1289.5" y="81.5" width="61" height="18" fill="#fff" stroke="#ff0000" stroke-width="1"/>
<rect x="1351.5" y="88.5" width="2" height="3" fill="#fff" stroke="#ff0000" stroke-width="1"/>
<rect x="1354" y="90" width="7" height="1" fill="#ff0000"/>
</g>
<text x="1197" y="132" font-family="'Liberation Sans', Arial, sans-serif" font-size="23.2px" fill="#ff0000" stroke="#ff0000" stroke-width="0.35" textLength="70.2" lengthAdjust="spacingAndGlyphs">0.95624</text>
<text x="1291" y="96.5" font-family="'Liberation Sans', Arial, sans-serif" font-size="16px" fill="#ff0000" textLength="58" lengthAdjust="spacingAndGlyphs">0.95926</text>
</g>
<text x="8.4" y="35.3" font-family="'Liberation Sans', Arial, sans-serif" font-size="9.9px" fill="#000" stroke="#000" stroke-width="0.18" textLength="203.5" lengthAdjust="spacingAndGlyphs">USDCHF-,H4  0.95688 0.95805 0.95667 0.95785</text>
<polygon points="5,31.5 8,29.5 8,33.5" fill="none" stroke="#000" stroke-width="0.8"/>
<rect x="0" y="33" width="2" height="2" fill="#000"/>
<g shape-rendering="crispEdges">
<rect x="0" y="43" width="216" height="59" fill="#fff"/>
<rect x="0" y="44" width="47" height="24" fill="url(#gTop)"/>
<rect x="0" y="44" width="47" height="1" fill="#0000a8"/>
<rect x="46" y="44" width="1" height="25" fill="#0000a8"/>
<rect x="162" y="44" width="52" height="24" fill="url(#gTop)"/>
<rect x="162" y="44" width="52" height="1" fill="#0000a8"/>
<rect x="162" y="44" width="1" height="25" fill="#0000a8"/>
<rect x="213" y="44" width="1" height="57" fill="#0000a8"/>
<rect x="0" y="68" width="104" height="33" fill="url(#gBot)"/>
<rect x="106" y="68" width="108" height="33" fill="url(#gBot)"/>
<rect x="46" y="68" width="58" height="1" fill="#0000a8"/>
<rect x="103" y="68" width="1" height="33" fill="#0000a8"/>
<rect x="106" y="68" width="57" height="1" fill="#0000a8"/>
<rect x="106" y="68" width="1" height="33" fill="#0000a8"/>
<rect x="213" y="68" width="1" height="33" fill="#0000a8"/>
<rect x="0" y="67" width="43" height="1" fill="#000080"/>
<rect x="0" y="68" width="43" height="1" fill="#7878ff"/>
<rect x="166" y="67" width="45" height="1" fill="#000080"/>
<rect x="166" y="68" width="45" height="1" fill="#7878ff"/>
<rect x="49" y="44" width="112" height="23" fill="#ffffff"/>
<rect x="49.5" y="44.5" width="110" height="21" fill="none" stroke="#a9a9a9"/>
<rect x="51" y="46" width="19" height="19" fill="url(#gBtn)"/>
<rect x="70" y="45" width="1" height="20" fill="#b9b9b9"/>
<rect x="139" y="45" width="1" height="20" fill="#b9b9b9"/>
<rect x="140" y="46" width="19" height="19" fill="url(#gBtn)"/>
</g>
<polygon points="57,53 62.2,53 59.6,56" fill="#4a60c8"/>
<polygon points="146.4,55.8 151.6,55.8 149,52.8" fill="#4a60c8"/>
<text x="134.5" y="58.8" font-family="'Liberation Sans', Arial, sans-serif" font-size="12px" fill="#000" text-anchor="end">1.00</text>
<text x="7.5" y="60.2" font-family="'Liberation Sans', Arial, sans-serif" font-size="12.4px" fill="#eef0ff" textLength="25.5" lengthAdjust="spacingAndGlyphs">SELL</text>
<text x="175.5" y="60.2" font-family="'Liberation Sans', Arial, sans-serif" font-size="12.4px" fill="#eef0ff" textLength="23.5" lengthAdjust="spacingAndGlyphs">BUY</text>
<text x="14.6" y="96" font-family="'Liberation Sans', Arial, sans-serif" font-size="12.6px" font-weight="bold" fill="#fff" textLength="24.5" lengthAdjust="spacingAndGlyphs">0.95</text>
<text x="124.6" y="96" font-family="'Liberation Sans', Arial, sans-serif" font-size="12.6px" font-weight="bold" fill="#fff" textLength="24.5" lengthAdjust="spacingAndGlyphs">0.95</text>
<text x="42.5" y="96.4" font-family="'Liberation Sans', Arial, sans-serif" font-size="34px" fill="#fff" textLength="35.5" lengthAdjust="spacingAndGlyphs">78</text>
<text x="153.6" y="96.4" font-family="'Liberation Sans', Arial, sans-serif" font-size="34px" fill="#fff" textLength="35.5" lengthAdjust="spacingAndGlyphs">80</text>
<text x="82.4" y="79.9" font-family="'Liberation Sans', Arial, sans-serif" font-size="11.4px" font-weight="bold" fill="#fff">5</text>
<text x="193.2" y="79.7" font-family="'Liberation Sans', Arial, sans-serif" font-size="11.4px" font-weight="bold" fill="#fff">8</text>
<g clip-path="url(#cMacd)">
<g shape-rendering="crispEdges" fill="#c0c0c0">
<rect x="0" y="598" width="1" height="80"/>
<rect x="8" y="593" width="1" height="85"/>
<rect x="16" y="591" width="1" height="87"/>
<rect x="24" y="591" width="1" height="87"/>
<rect x="32" y="595" width="1" height="83"/>
<rect x="40" y="596" width="1" height="82"/>
<rect x="48" y="600" width="1" height="78"/>
<rect x="56" y="600" width="1" height="78"/>
<rect x="64" y="605" width="1" height="73"/>
<rect x="72" y="606" width="1" height="72"/>
<rect x="80" y="611" width="1" height="67"/>
<rect x="88" y="613" width="1" height="65"/>
<rect x="96" y="618" width="1" height="60"/>
<rect x="104" y="633" width="1" height="45"/>
<rect x="112" y="640" width="1" height="38"/>
<rect x="120" y="649" width="1" height="29"/>
<rect x="128" y="655" width="1" height="23"/>
<rect x="136" y="660" width="1" height="18"/>
<rect x="144" y="666" width="1" height="12"/>
<rect x="152" y="675" width="1" height="3"/>
<rect x="160" y="677" width="1" height="10"/>
<rect x="168" y="677" width="1" height="15"/>
<rect x="176" y="677" width="1" height="19"/>
<rect x="184" y="677" width="1" height="21"/>
<rect x="192" y="677" width="1" height="29"/>
<rect x="200" y="677" width="1" height="35"/>
<rect x="208" y="677" width="1" height="33"/>
<rect x="216" y="677" width="1" height="30"/>
<rect x="224" y="677" width="1" height="25"/>
<rect x="232" y="677" width="1" height="19"/>
<rect x="240" y="677" width="1" height="19"/>
<rect x="248" y="677" width="1" height="21"/>
<rect x="256" y="677" width="1" height="21"/>
<rect x="264" y="677" width="1" height="20"/>
<rect x="272" y="677" width="1" height="19"/>
<rect x="280" y="677" width="1" height="17"/>
<rect x="288" y="677" width="1" height="14"/>
<rect x="296" y="677" width="1" height="17"/>
<rect x="304" y="677" width="1" height="21"/>
<rect x="312" y="677" width="1" height="25"/>
<rect x="320" y="677" width="1" height="25"/>
<rect x="328" y="677" width="1" height="21"/>
<rect x="336" y="677" width="1" height="24"/>
<rect x="344" y="677" width="1" height="25"/>
<rect x="352" y="677" width="1" height="27"/>
<rect x="360" y="677" width="1" height="30"/>
<rect x="368" y="677" width="1" height="37"/>
<rect x="376" y="677" width="1" height="42"/>
<rect x="384" y="677" width="1" height="47"/>
<rect x="392" y="677" width="1" height="42"/>
<rect x="400" y="677" width="1" height="37"/>
<rect x="408" y="677" width="1" height="32"/>
<rect x="416" y="677" width="1" height="22"/>
<rect x="424" y="677" width="1" height="11"/>
<rect x="432" y="677" width="1" height="1"/>
<rect x="440" y="673" width="1" height="5"/>
<rect x="448" y="668" width="1" height="10"/>
<rect x="456" y="668" width="1" height="10"/>
<rect x="464" y="669" width="1" height="9"/>
<rect x="472" y="665" width="1" height="13"/>
<rect x="480" y="663" width="1" height="15"/>
<rect x="488" y="671" width="1" height="7"/>
<rect x="496" y="676" width="1" height="2"/>
<rect x="504" y="677" width="1" height="3"/>
<rect x="512" y="677" width="1" height="11"/>
<rect x="520" y="677" width="1" height="18"/>
<rect x="528" y="677" width="1" height="26"/>
<rect x="536" y="677" width="1" height="39"/>
<rect x="544" y="677" width="1" height="48"/>
<rect x="552" y="677" width="1" height="55"/>
<rect x="560" y="677" width="1" height="58"/>
<rect x="568" y="677" width="1" height="58"/>
<rect x="576" y="677" width="1" height="58"/>
<rect x="584" y="677" width="1" height="64"/>
<rect x="592" y="677" width="1" height="63"/>
<rect x="600" y="677" width="1" height="63"/>
<rect x="608" y="677" width="1" height="59"/>
<rect x="616" y="677" width="1" height="57"/>
<rect x="624" y="677" width="1" height="54"/>
<rect x="632" y="677" width="1" height="48"/>
<rect x="640" y="677" width="1" height="44"/>
<rect x="648" y="677" width="1" height="39"/>
<rect x="656" y="677" width="1" height="33"/>
<rect x="664" y="677" width="1" height="31"/>
<rect x="672" y="677" width="1" height="24"/>
<rect x="680" y="677" width="1" height="23"/>
<rect x="688" y="677" width="1" height="19"/>
<rect x="696" y="677" width="1" height="17"/>
<rect x="704" y="677" width="1" height="16"/>
<rect x="712" y="677" width="1" height="16"/>
<rect x="720" y="677" width="1" height="16"/>
<rect x="728" y="677" width="1" height="8"/>
<rect x="736" y="677" width="1" height="1"/>
<rect x="744" y="671" width="1" height="7"/>
<rect x="752" y="665" width="1" height="13"/>
<rect x="760" y="653" width="1" height="25"/>
<rect x="768" y="646" width="1" height="32"/>
<rect x="776" y="642" width="1" height="36"/>
<rect x="784" y="639" width="1" height="39"/>
<rect x="792" y="636" width="1" height="42"/>
<rect x="800" y="635" width="1" height="43"/>
<rect x="808" y="636" width="1" height="42"/>
<rect x="816" y="636" width="1" height="42"/>
<rect x="824" y="635" width="1" height="43"/>
<rect x="832" y="634" width="1" height="44"/>
<rect x="840" y="632" width="1" height="46"/>
<rect x="848" y="631" width="1" height="47"/>
<rect x="856" y="631" width="1" height="47"/>
<rect x="864" y="631" width="1" height="47"/>
<rect x="872" y="634" width="1" height="44"/>
<rect x="880" y="637" width="1" height="41"/>
<rect x="888" y="638" width="1" height="40"/>
<rect x="896" y="636" width="1" height="42"/>
<rect x="904" y="637" width="1" height="41"/>
<rect x="912" y="641" width="1" height="37"/>
<rect x="920" y="650" width="1" height="28"/>
<rect x="928" y="656" width="1" height="22"/>
<rect x="936" y="661" width="1" height="17"/>
<rect x="944" y="666" width="1" height="12"/>
<rect x="952" y="664" width="1" height="14"/>
<rect x="960" y="667" width="1" height="11"/>
<rect x="968" y="673" width="1" height="5"/>
<rect x="976" y="673" width="1" height="5"/>
<rect x="984" y="673" width="1" height="5"/>
<rect x="992" y="673" width="1" height="5"/>
<rect x="1000" y="674" width="1" height="4"/>
<rect x="1008" y="671" width="1" height="7"/>
<rect x="1016" y="669" width="1" height="9"/>
<rect x="1024" y="665" width="1" height="13"/>
<rect x="1032" y="664" width="1" height="14"/>
<rect x="1040" y="666" width="1" height="12"/>
<rect x="1048" y="665" width="1" height="13"/>
<rect x="1056" y="657" width="1" height="21"/>
<rect x="1064" y="642" width="1" height="36"/>
<rect x="1072" y="630" width="1" height="48"/>
<rect x="1080" y="620" width="1" height="58"/>
<rect x="1088" y="614" width="1" height="64"/>
<rect x="1096" y="611" width="1" height="67"/>
<rect x="1104" y="609" width="1" height="69"/>
<rect x="1112" y="607" width="1" height="71"/>
<rect x="1120" y="606" width="1" height="72"/>
<rect x="1128" y="607" width="1" height="71"/>
<rect x="1136" y="606" width="1" height="72"/>
<rect x="1144" y="605" width="1" height="73"/>
<rect x="1152" y="608" width="1" height="70"/>
<rect x="1160" y="609" width="1" height="69"/>
<rect x="1168" y="609" width="1" height="69"/>
<rect x="1176" y="609" width="1" height="69"/>
<rect x="1184" y="609" width="1" height="69"/>
<rect x="1192" y="612" width="1" height="66"/>
<rect x="1200" y="611" width="1" height="67"/>
<rect x="1208" y="607" width="1" height="71"/>
<rect x="1216" y="598" width="1" height="80"/>
<rect x="1224" y="591" width="1" height="87"/>
<rect x="1232" y="589" width="1" height="89"/>
<rect x="1240" y="590" width="1" height="88"/>
<rect x="1248" y="598" width="1" height="80"/>
<rect x="1256" y="605" width="1" height="73"/>
<rect x="1264" y="609" width="1" height="69"/>
<rect x="1272" y="611" width="1" height="67"/>
<rect x="1280" y="611" width="1" height="67"/>
<rect x="1288" y="620" width="1" height="58"/>
<rect x="1296" y="621" width="1" height="57"/>
<rect x="1304" y="615" width="1" height="63"/>
<rect x="1312" y="613" width="1" height="65"/>
<rect x="1320" y="609" width="1" height="69"/>
<rect x="1328" y="607" width="1" height="71"/>
<rect x="1336" y="604" width="1" height="74"/>
<rect x="1344" y="603" width="1" height="75"/>
<rect x="1352" y="595" width="1" height="83"/>
<rect x="1360" y="593" width="1" height="85"/>
<rect x="1368" y="594" width="1" height="84"/>
<rect x="1376" y="594" width="1" height="84"/>
<rect x="1384" y="593" width="1" height="85"/>
</g>
<polyline points="0.5,602.9 8.5,601.0 16.5,599.0 24.5,597.0 32.5,595.1 40.5,594.7 48.5,594.5 56.5,595.2 64.5,597.2 72.5,598.1 80.5,600.0 88.5,602.5 96.5,605.5 104.5,609.7 112.5,614.7 120.5,620.1 128.5,626.1 136.5,632.2 144.5,638.9 152.5,646.0 160.5,654.0 168.5,662.1 176.5,669.0 184.5,675.3 192.5,681.6 200.5,687.8 208.5,693.2 216.5,697.6 224.5,700.5 232.5,701.5 240.5,701.9 248.5,702.2 256.5,702.2 264.5,701.3 272.5,699.5 280.5,697.8 288.5,696.0 296.5,695.1 304.5,695.3 312.5,695.9 320.5,696.3 328.5,696.3 336.5,696.7 344.5,697.4 352.5,698.5 360.5,700.3 368.5,702.6 376.5,704.9 384.5,707.4 392.5,709.3 400.5,711.0 408.5,711.9 416.5,711.5 424.5,709.8 432.5,706.6 440.5,702.1 448.5,696.6 456.5,690.5 464.5,685.1 472.5,679.7 480.5,674.8 488.5,671.7 496.5,670.5 504.5,670.7 512.5,672.3 520.5,675.1 528.5,678.9 536.5,684.0 544.5,690.6 552.5,698.2 560.5,705.2 568.5,711.6 576.5,717.7 584.5,723.6 592.5,728.6 600.5,732.8 608.5,735.0 616.5,736.0 624.5,735.8 632.5,734.8 640.5,733.2 648.5,731.1 656.5,727.7 664.5,724.1 672.5,719.8 680.5,715.8 688.5,711.6 696.5,707.5 704.5,704.0 712.5,700.8 720.5,698.3 728.5,695.4 736.5,692.1 744.5,688.9 752.5,685.1 760.5,680.4 768.5,675.2 776.5,669.6 784.5,663.8 792.5,657.5 800.5,652.2 808.5,647.6 816.5,643.7 824.5,640.4 832.5,638.2 840.5,636.7 848.5,635.4 856.5,634.6 864.5,634.0 872.5,633.9 880.5,633.9 888.5,634.2 896.5,634.3 904.5,634.7 912.5,635.6 920.5,637.7 928.5,640.5 936.5,644.0 944.5,647.5 952.5,650.6 960.5,653.8 968.5,657.9 976.5,661.8 984.5,665.4 992.5,668.0 1000.5,670.0 1008.5,671.0 1016.5,671.3 1024.5,671.4 1032.5,671.1 1040.5,670.3 1048.5,669.4 1056.5,667.7 1064.5,664.2 1072.5,659.2 1080.5,653.6 1088.5,647.4 1096.5,641.5 1104.5,635.4 1112.5,628.8 1120.5,622.3 1128.5,616.7 1136.5,612.7 1144.5,610.0 1152.5,608.7 1160.5,608.1 1168.5,607.9 1176.5,607.9 1184.5,608.1 1192.5,608.7 1200.5,609.1 1208.5,609.2 1216.5,608.5 1224.5,606.5 1232.5,604.4 1240.5,602.3 1248.5,601.0 1256.5,600.6 1264.5,600.3 1272.5,600.4 1280.5,600.8 1288.5,603.3 1296.5,606.6 1304.5,609.6 1312.5,612.1 1320.5,613.3 1328.5,613.4 1336.5,612.9 1344.5,611.9 1352.5,610.2 1360.5,607.1 1368.5,604.1 1376.5,601.8 1384.5,599.6" fill="none" stroke="#ff0000" stroke-width="1" stroke-dasharray="3,3" shape-rendering="crispEdges"/>
<line x1="1272.5" y1="620.5" x2="1393.7" y2="596.3" stroke="#ff0000" stroke-width="3" stroke-linecap="round" shape-rendering="crispEdges"/>
<polygon points="1403.5,594.3 1392.6,601.1 1390.9,592.2" fill="#ff0000" stroke="#ff0000" stroke-width="0.8" stroke-linejoin="round" shape-rendering="crispEdges"/>
</g>
<text x="-1" y="592" font-family="'Liberation Sans', Arial, sans-serif" font-size="9.9px" fill="#000" stroke="#000" stroke-width="0.18" textLength="145" lengthAdjust="spacingAndGlyphs">MACD(12,26,9) 0.003342 0.003110</text>
<g clip-path="url(#cRsi)">
<line x1="0" y1="787.5" x2="1651" y2="787.5" stroke="#c0c0c0" stroke-width="1" stroke-dasharray="3,3" stroke-dashoffset="1" shape-rendering="crispEdges"/>
<line x1="0" y1="838.5" x2="1651" y2="838.5" stroke="#c0c0c0" stroke-width="1" stroke-dasharray="3,3" stroke-dashoffset="1" shape-rendering="crispEdges"/>
<line x1="0" y1="899.5" x2="1651" y2="899.5" stroke="#c0c0c0" stroke-width="1" stroke-dasharray="3,3" stroke-dashoffset="1" shape-rendering="crispEdges"/>
<polyline points="0.5,787.2 8.5,780.5 16.5,784.6 24.5,788.8 32.5,802.2 40.5,796.9 48.5,810.2 56.5,802.5 64.5,816.5 72.5,809.5 80.5,821.0 88.5,816.7 96.5,824.7 104.5,850.7 112.5,839.6 120.5,844.6 128.5,842.6 136.5,843.1 144.5,847.2 152.5,856.1 160.5,862.8 168.5,855.2 176.5,852.9 184.5,853.3 192.5,864.1 200.5,865.1 208.5,846.6 216.5,843.7 224.5,838.0 232.5,833.0 240.5,845.8 248.5,850.5 256.5,846.8 264.5,844.7 272.5,842.2 280.5,842.3 288.5,836.6 296.5,851.5 304.5,856.4 312.5,857.2 320.5,849.5 328.5,839.7 336.5,852.3 344.5,852.7 352.5,854.0 360.5,858.8 368.5,867.6 376.5,868.5 384.5,871.7 392.5,842.5 400.5,842.5 408.5,840.1 416.5,828.4 424.5,821.2 432.5,819.1 440.5,828.6 448.5,826.0 456.5,834.4 464.5,838.3 472.5,825.9 480.5,830.6 488.5,850.7 496.5,847.8 504.5,845.0 512.5,855.5 520.5,856.7 528.5,862.4 536.5,871.6 544.5,871.6 552.5,871.9 560.5,863.0 568.5,861.4 576.5,860.6 584.5,873.4 592.5,856.6 600.5,859.6 608.5,851.2 616.5,854.4 624.5,851.4 632.5,845.5 640.5,846.0 648.5,843.6 656.5,840.7 664.5,847.2 672.5,833.2 680.5,843.9 688.5,839.7 696.5,840.6 704.5,843.0 712.5,844.0 720.5,847.0 728.5,825.0 736.5,824.7 744.5,823.4 752.5,818.7 760.5,806.7 768.5,812.0 776.5,815.1 784.5,814.8 792.5,813.4 800.5,817.4 808.5,820.1 816.5,817.2 824.5,814.9 832.5,810.8 840.5,808.6 848.5,807.2 856.5,811.4 864.5,808.8 872.5,825.0 880.5,822.2 888.5,818.8 896.5,809.5 904.5,820.3 912.5,828.4 920.5,848.9 928.5,845.4 936.5,844.9 944.5,845.6 952.5,828.6 960.5,840.1 968.5,851.0 976.5,837.3 984.5,836.0 992.5,838.7 1000.5,839.2 1008.5,827.1 1016.5,830.9 1024.5,824.0 1032.5,831.2 1040.5,838.5 1048.5,830.9 1056.5,815.4 1064.5,801.2 1072.5,801.0 1080.5,800.1 1088.5,802.1 1096.5,808.6 1104.5,807.3 1112.5,804.7 1120.5,804.7 1128.5,808.4 1136.5,803.2 1144.5,801.1 1152.5,816.9 1160.5,810.1 1168.5,809.0 1176.5,807.5 1184.5,805.1 1192.5,814.5 1200.5,805.6 1208.5,800.4 1216.5,791.1 1224.5,790.1 1232.5,800.2 1240.5,805.7 1248.5,826.6 1256.5,825.5 1264.5,820.6 1272.5,817.3 1280.5,811.6 1288.5,837.4 1296.5,823.9 1304.5,813.9 1312.5,816.9 1320.5,813.6 1328.5,813.4 1336.5,810.8 1344.5,811.8 1352.5,801.1 1360.5,811.2 1368.5,816.7 1376.5,813.2 1384.5,810.4" fill="none" stroke="#1e90ff" stroke-width="1" shape-rendering="crispEdges"/>
<line x1="1287.5" y1="806.5" x2="1381.0" y2="806.5" stroke="#ff0000" stroke-width="3" stroke-linecap="round" shape-rendering="crispEdges"/>
<polygon points="1390,806.5 1379.0,811.0 1379.0,802.0" fill="#ff0000" stroke="#ff0000" stroke-width="0.8" stroke-linejoin="round" shape-rendering="crispEdges"/>
</g>
<text x="-1.5" y="764" font-family="'Liberation Sans', Arial, sans-serif" font-size="9.9px" fill="#000" stroke="#000" stroke-width="0.18" textLength="65.5" lengthAdjust="spacingAndGlyphs">RSI(14) 66.5615</text>
<g shape-rendering="crispEdges">
<rect x="1652" y="46" width="3" height="1" fill="#000"/>
<rect x="1652" y="79" width="3" height="1" fill="#000"/>
<rect x="1652" y="112" width="3" height="1" fill="#000"/>
<rect x="1652" y="145" width="3" height="1" fill="#000"/>
<rect x="1652" y="178" width="3" height="1" fill="#000"/>
<rect x="1652" y="211" width="3" height="1" fill="#000"/>
<rect x="1652" y="244" width="3" height="1" fill="#000"/>
<rect x="1652" y="277" width="3" height="1" fill="#000"/>
<rect x="1652" y="310" width="3" height="1" fill="#000"/>
<rect x="1652" y="343" width="3" height="1" fill="#000"/>
<rect x="1652" y="376" width="3" height="1" fill="#000"/>
<rect x="1652" y="409" width="3" height="1" fill="#000"/>
<rect x="1652" y="442" width="3" height="1" fill="#000"/>
<rect x="1652" y="475" width="3" height="1" fill="#000"/>
<rect x="1652" y="508" width="3" height="1" fill="#000"/>
<rect x="1652" y="541" width="3" height="1" fill="#000"/>
<rect x="1652" y="574" width="3" height="1" fill="#000"/>
</g>
<text x="1657" y="50" font-family="'Liberation Sans', Arial, sans-serif" font-size="9.9px" fill="#000" stroke="#000" stroke-width="0.18" textLength="32.5" lengthAdjust="spacingAndGlyphs">0.96330</text>
<text x="1657" y="83" font-family="'Liberation Sans', Arial, sans-serif" font-size="9.9px" fill="#000" stroke="#000" stroke-width="0.18" textLength="32.5" lengthAdjust="spacingAndGlyphs">0.96025</text>
<text x="1657" y="116" font-family="'Liberation Sans', Arial, sans-serif" font-size="9.9px" fill="#000" stroke="#000" stroke-width="0.18" textLength="32.5" lengthAdjust="spacingAndGlyphs">0.95720</text>
<text x="1657" y="149" font-family="'Liberation Sans', Arial, sans-serif" font-size="9.9px" fill="#000" stroke="#000" stroke-width="0.18" textLength="32.5" lengthAdjust="spacingAndGlyphs">0.95415</text>
<text x="1657" y="182" font-family="'Liberation Sans', Arial, sans-serif" font-size="9.9px" fill="#000" stroke="#000" stroke-width="0.18" textLength="32.5" lengthAdjust="spacingAndGlyphs">0.95110</text>
<text x="1657" y="215" font-family="'Liberation Sans', Arial, sans-serif" font-size="9.9px" fill="#000" stroke="#000" stroke-width="0.18" textLength="32.5" lengthAdjust="spacingAndGlyphs">0.94810</text>
<text x="1657" y="248" font-family="'Liberation Sans', Arial, sans-serif" font-size="9.9px" fill="#000" stroke="#000" stroke-width="0.18" textLength="32.5" lengthAdjust="spacingAndGlyphs">0.94505</text>
<text x="1657" y="281" font-family="'Liberation Sans', Arial, sans-serif" font-size="9.9px" fill="#000" stroke="#000" stroke-width="0.18" textLength="32.5" lengthAdjust="spacingAndGlyphs">0.94200</text>
<text x="1657" y="314" font-family="'Liberation Sans', Arial, sans-serif" font-size="9.9px" fill="#000" stroke="#000" stroke-width="0.18" textLength="32.5" lengthAdjust="spacingAndGlyphs">0.93895</text>
<text x="1657" y="347" font-family="'Liberation Sans', Arial, sans-serif" font-size="9.9px" fill="#000" stroke="#000" stroke-width="0.18" textLength="32.5" lengthAdjust="spacingAndGlyphs">0.93590</text>
<text x="1657" y="380" font-family="'Liberation Sans', Arial, sans-serif" font-size="9.9px" fill="#000" stroke="#000" stroke-width="0.18" textLength="32.5" lengthAdjust="spacingAndGlyphs">0.93285</text>
<text x="1657" y="413" font-family="'Liberation Sans', Arial, sans-serif" font-size="9.9px" fill="#000" stroke="#000" stroke-width="0.18" textLength="32.5" lengthAdjust="spacingAndGlyphs">0.92980</text>
<text x="1657" y="446" font-family="'Liberation Sans', Arial, sans-serif" font-size="9.9px" fill="#000" stroke="#000" stroke-width="0.18" textLength="32.5" lengthAdjust="spacingAndGlyphs">0.92680</text>
<text x="1657" y="479" font-family="'Liberation Sans', Arial, sans-serif" font-size="9.9px" fill="#000" stroke="#000" stroke-width="0.18" textLength="32.5" lengthAdjust="spacingAndGlyphs">0.92375</text>
<text x="1657" y="512" font-family="'Liberation Sans', Arial, sans-serif" font-size="9.9px" fill="#000" stroke="#000" stroke-width="0.18" textLength="32.5" lengthAdjust="spacingAndGlyphs">0.92070</text>
<text x="1657" y="545" font-family="'Liberation Sans', Arial, sans-serif" font-size="9.9px" fill="#000" stroke="#000" stroke-width="0.18" textLength="32.5" lengthAdjust="spacingAndGlyphs">0.91765</text>
<text x="1657" y="578" font-family="'Liberation Sans', Arial, sans-serif" font-size="9.9px" fill="#000" stroke="#000" stroke-width="0.18" textLength="32.5" lengthAdjust="spacingAndGlyphs">0.91460</text>
<rect x="1653" y="29" width="41" height="11" fill="#ff0000" shape-rendering="crispEdges"/>
<text x="1657" y="38" font-family="'Liberation Sans', Arial, sans-serif" font-size="9.6px" fill="#fff" stroke="#fff" stroke-width="0.15" textLength="32.5" lengthAdjust="spacingAndGlyphs">0.96428</text>
<rect x="1653" y="66" width="41" height="11" fill="#ff0000" shape-rendering="crispEdges"/>
<text x="1657" y="75" font-family="'Liberation Sans', Arial, sans-serif" font-size="9.6px" fill="#fff" stroke="#fff" stroke-width="0.15" textLength="32.5" lengthAdjust="spacingAndGlyphs">0.96089</text>
<rect x="1653" y="100" width="41" height="11" fill="#000000" shape-rendering="crispEdges"/>
<text x="1657" y="109" font-family="'Liberation Sans', Arial, sans-serif" font-size="9.6px" fill="#fff" stroke="#fff" stroke-width="0.15" textLength="32.5" lengthAdjust="spacingAndGlyphs">0.95785</text>
<rect x="1653" y="117" width="41" height="11" fill="#ffa500" shape-rendering="crispEdges"/>
<text x="1657" y="126" font-family="'Liberation Sans', Arial, sans-serif" font-size="9.6px" fill="#fff" stroke="#fff" stroke-width="0.15" textLength="32.5" lengthAdjust="spacingAndGlyphs">0.95624</text>
<rect x="1653" y="148" width="41" height="11" fill="#0000ff" shape-rendering="crispEdges"/>
<text x="1657" y="157" font-family="'Liberation Sans', Arial, sans-serif" font-size="9.6px" fill="#fff" stroke="#fff" stroke-width="0.15" textLength="32.5" lengthAdjust="spacingAndGlyphs">0.95337</text>
<rect x="1653" y="179" width="41" height="11" fill="#0000ff" shape-rendering="crispEdges"/>
<text x="1657" y="188" font-family="'Liberation Sans', Arial, sans-serif" font-size="9.6px" fill="#fff" stroke="#fff" stroke-width="0.15" textLength="32.5" lengthAdjust="spacingAndGlyphs">0.95050</text>
<g shape-rendering="crispEdges">
<rect x="1652" y="581" width="3" height="1" fill="#000"/>
<rect x="1652" y="677" width="3" height="1" fill="#000"/>
<rect x="1652" y="748" width="3" height="1" fill="#000"/>
<rect x="1652" y="752" width="3" height="1" fill="#000"/>
<rect x="1652" y="787" width="3" height="1" fill="#000"/>
<rect x="1652" y="838" width="3" height="1" fill="#000"/>
<rect x="1652" y="899" width="3" height="1" fill="#000"/>
<rect x="1652" y="924" width="3" height="1" fill="#000"/>
</g>
<text x="1655" y="590" font-family="'Liberation Sans', Arial, sans-serif" font-size="9.9px" fill="#000" stroke="#000" stroke-width="0.18" textLength="38" lengthAdjust="spacingAndGlyphs">0.003815</text>
<text x="1656" y="681" font-family="'Liberation Sans', Arial, sans-serif" font-size="9.9px" fill="#000" stroke="#000" stroke-width="0.18" textLength="18.1" lengthAdjust="spacingAndGlyphs">0.00</text>
<text x="1655" y="746" font-family="'Liberation Sans', Arial, sans-serif" font-size="9.9px" fill="#000" stroke="#000" stroke-width="0.18" textLength="40.5" lengthAdjust="spacingAndGlyphs">-0.002797</text>
<text x="1656" y="762" font-family="'Liberation Sans', Arial, sans-serif" font-size="9.9px" fill="#000" stroke="#000" stroke-width="0.18" textLength="15.5" lengthAdjust="spacingAndGlyphs">100</text>
<text x="1656" y="791" font-family="'Liberation Sans', Arial, sans-serif" font-size="9.9px" fill="#000" stroke="#000" stroke-width="0.18" textLength="10.3" lengthAdjust="spacingAndGlyphs">80</text>
<text x="1656" y="842" font-family="'Liberation Sans', Arial, sans-serif" font-size="9.9px" fill="#000" stroke="#000" stroke-width="0.18" textLength="10.3" lengthAdjust="spacingAndGlyphs">50</text>
<text x="1656" y="903" font-family="'Liberation Sans', Arial, sans-serif" font-size="9.9px" fill="#000" stroke="#000" stroke-width="0.18" textLength="10.3" lengthAdjust="spacingAndGlyphs">15</text>
<text x="1656" y="922" font-family="'Liberation Sans', Arial, sans-serif" font-size="9.9px" fill="#000" stroke="#000" stroke-width="0.18" textLength="5.2" lengthAdjust="spacingAndGlyphs">0</text>
<g shape-rendering="crispEdges">
<rect x="56" y="926" width="1" height="3" fill="#000"/>
<rect x="120" y="926" width="1" height="3" fill="#000"/>
<rect x="184" y="926" width="1" height="3" fill="#000"/>
<rect x="248" y="926" width="1" height="3" fill="#000"/>
<rect x="312" y="926" width="1" height="3" fill="#000"/>
<rect x="376" y="926" width="1" height="3" fill="#000"/>
<rect x="440" y="926" width="1" height="3" fill="#000"/>
<rect x="504" y="926" width="1" height="3" fill="#000"/>
<rect x="568" y="926" width="1" height="3" fill="#000"/>
<rect x="632" y="926" width="1" height="3" fill="#000"/>
<rect x="696" y="926" width="1" height="3" fill="#000"/>
<rect x="760" y="926" width="1" height="3" fill="#000"/>
<rect x="824" y="926" width="1" height="3" fill="#000"/>
<rect x="888" y="926" width="1" height="3" fill="#000"/>
<rect x="952" y="926" width="1" height="3" fill="#000"/>
<rect x="1016" y="926" width="1" height="3" fill="#000"/>
<rect x="1080" y="926" width="1" height="3" fill="#000"/>
<rect x="1144" y="926" width="1" height="3" fill="#000"/>
<rect x="1208" y="926" width="1" height="3" fill="#000"/>
<rect x="1272" y="926" width="1" height="3" fill="#000"/>
<rect x="1336" y="926" width="1" height="3" fill="#000"/>
</g>
<text x="-9.3" y="938" font-family="'Liberation Sans', Arial, sans-serif" font-size="9.9px" fill="#000" stroke="#000" stroke-width="0.18" textLength="52.2" lengthAdjust="spacingAndGlyphs">15 Mar 2022</text>
<text x="56" y="938" font-family="'Liberation Sans', Arial, sans-serif" font-size="9.9px" fill="#000" stroke="#000" stroke-width="0.18" textLength="54.8" lengthAdjust="spacingAndGlyphs">16 Mar 12:00</text>
<text x="120" y="938" font-family="'Liberation Sans', Arial, sans-serif" font-size="9.9px" fill="#000" stroke="#000" stroke-width="0.18" textLength="54.8" lengthAdjust="spacingAndGlyphs">17 Mar 20:00</text>
<text x="184" y="938" font-family="'Liberation Sans', Arial, sans-serif" font-size="9.9px" fill="#000" stroke="#000" stroke-width="0.18" textLength="54.8" lengthAdjust="spacingAndGlyphs">21 Mar 04:00</text>
<text x="248" y="938" font-family="'Liberation Sans', Arial, sans-serif" font-size="9.9px" fill="#000" stroke="#000" stroke-width="0.18" textLength="54.8" lengthAdjust="spacingAndGlyphs">22 Mar 12:00</text>
<text x="312" y="938" font-family="'Liberation Sans', Arial, sans-serif" font-size="9.9px" fill="#000" stroke="#000" stroke-width="0.18" textLength="54.8" lengthAdjust="spacingAndGlyphs">23 Mar 20:00</text>
<text x="376" y="938" font-family="'Liberation Sans', Arial, sans-serif" font-size="9.9px" fill="#000" stroke="#000" stroke-width="0.18" textLength="54.8" lengthAdjust="spacingAndGlyphs">25 Mar 04:00</text>
<text x="440" y="938" font-family="'Liberation Sans', Arial, sans-serif" font-size="9.9px" fill="#000" stroke="#000" stroke-width="0.18" textLength="54.8" lengthAdjust="spacingAndGlyphs">28 Mar 12:00</text>
<text x="504" y="938" font-family="'Liberation Sans', Arial, sans-serif" font-size="9.9px" fill="#000" stroke="#000" stroke-width="0.18" textLength="54.8" lengthAdjust="spacingAndGlyphs">29 Mar 20:00</text>
<text x="568" y="938" font-family="'Liberation Sans', Arial, sans-serif" font-size="9.9px" fill="#000" stroke="#000" stroke-width="0.18" textLength="54.8" lengthAdjust="spacingAndGlyphs">31 Mar 04:00</text>
<text x="632" y="938" font-family="'Liberation Sans', Arial, sans-serif" font-size="9.9px" fill="#000" stroke="#000" stroke-width="0.18" textLength="47.6" lengthAdjust="spacingAndGlyphs">1 Apr 12:00</text>
<text x="696" y="938" font-family="'Liberation Sans', Arial, sans-serif" font-size="9.9px" fill="#000" stroke="#000" stroke-width="0.18" textLength="47.6" lengthAdjust="spacingAndGlyphs">4 Apr 20:00</text>
<text x="760" y="938" font-family="'Liberation Sans', Arial, sans-serif" font-size="9.9px" fill="#000" stroke="#000" stroke-width="0.18" textLength="47.6" lengthAdjust="spacingAndGlyphs">6 Apr 04:00</text>
<text x="824" y="938" font-family="'Liberation Sans', Arial, sans-serif" font-size="9.9px" fill="#000" stroke="#000" stroke-width="0.18" textLength="47.6" lengthAdjust="spacingAndGlyphs">7 Apr 12:00</text>
<text x="888" y="938" font-family="'Liberation Sans', Arial, sans-serif" font-size="9.9px" fill="#000" stroke="#000" stroke-width="0.18" textLength="52.7" lengthAdjust="spacingAndGlyphs">10 Apr 23:00</text>
<text x="952" y="938" font-family="'Liberation Sans', Arial, sans-serif" font-size="9.9px" fill="#000" stroke="#000" stroke-width="0.18" textLength="52.7" lengthAdjust="spacingAndGlyphs">12 Apr 04:00</text>
<text x="1016" y="938" font-family="'Liberation Sans', Arial, sans-serif" font-size="9.9px" fill="#000" stroke="#000" stroke-width="0.18" textLength="52.7" lengthAdjust="spacingAndGlyphs">13 Apr 12:00</text>
<text x="1080" y="938" font-family="'Liberation Sans', Arial, sans-serif" font-size="9.9px" fill="#000" stroke="#000" stroke-width="0.18" textLength="52.7" lengthAdjust="spacingAndGlyphs">14 Apr 20:00</text>
<text x="1144" y="938" font-family="'Liberation Sans', Arial, sans-serif" font-size="9.9px" fill="#000" stroke="#000" stroke-width="0.18" textLength="52.7" lengthAdjust="spacingAndGlyphs">18 Apr 04:00</text>
<text x="1208" y="938" font-family="'Liberation Sans', Arial, sans-serif" font-size="9.9px" fill="#000" stroke="#000" stroke-width="0.18" textLength="52.7" lengthAdjust="spacingAndGlyphs">19 Apr 12:00</text>
<text x="1272" y="938" font-family="'Liberation Sans', Arial, sans-serif" font-size="9.9px" fill="#000" stroke="#000" stroke-width="0.18" textLength="52.7" lengthAdjust="spacingAndGlyphs">20 Apr 20:00</text>
<text x="1336" y="938" font-family="'Liberation Sans', Arial, sans-serif" font-size="9.9px" fill="#000" stroke="#000" stroke-width="0.18" textLength="52.7" lengthAdjust="spacingAndGlyphs">22 Apr 04:00</text>
<g><circle cx="-4" cy="5" r="5" fill="#dfe9f5" stroke="#5b88c8" stroke-width="1.3"/><line x1="0" y1="12" x2="4" y2="16.5" stroke="#c8a020" stroke-width="2.5"/><rect x="12" y="1" width="1" height="17" fill="#a0a0a0" shape-rendering="crispEdges"/><rect x="13" y="1" width="1" height="17" fill="#fbfbfb" shape-rendering="crispEdges"/><path d="M22.5,0.5 h8 l3,3 v10 h-11 z" fill="#f4f4f4" stroke="#6b6b6b" stroke-width="1"/><rect x="24" y="3" width="2" height="1" fill="#777"/><rect x="24" y="6" width="6" height="1" fill="#999"/><rect x="24" y="8" width="6" height="1" fill="#999"/><path d="M30.2,6.4 h3.6 v3.8 h3.8 v3.6 h-3.8 v3.8 h-3.6 v-3.8 h-3.8 v-3.6 h3.8 z" fill="#22dd22" stroke="#129a12" stroke-width="0.8"/><text x="41" y="11" font-family="'Liberation Sans', 'Noto Sans CJK SC', 'WenQuanYi Zen Hei', sans-serif" font-size="11.8px" fill="#111">新订单</text><defs><linearGradient id="gGold" x1="0" y1="0" x2="1" y2="1"><stop offset="0" stop-color="#fff1a0"/><stop offset="0.45" stop-color="#f2c81e"/><stop offset="1" stop-color="#d49a10"/></linearGradient><linearGradient id="gCloud" x1="0" y1="0" x2="0" y2="1"><stop offset="0" stop-color="#ffffff"/><stop offset="1" stop-color="#c2cce0"/></linearGradient><radialGradient id="gSig" cx="0.6" cy="0.7" r="0.6"><stop offset="0" stop-color="#e8f4e0"/><stop offset="1" stop-color="#3aa040"/></radialGradient><linearGradient id="gFun" x1="0" y1="0" x2="0" y2="1"><stop offset="0" stop-color="#f8d030"/><stop offset="1" stop-color="#fff0a0"/></linearGradient></defs><path d="M94.6,1.4 L104.2,8.4 L97,15.6 L89.3,9.8 z" fill="url(#gGold)" stroke="#a2680e" stroke-width="1" stroke-linejoin="round"/><path d="M90.8,10.3 L96.9,14.6" fill="none" stroke="#fbeec0" stroke-width="1.3"/><path d="M97.4,14.6 L103.4,8.9" fill="none" stroke="#b07818" stroke-width="1.4"/><rect x="119" y="-0.5" width="11" height="9.5" fill="#1a8ef0" stroke="#2a78c8" stroke-width="0.8"/><rect x="123" y="1" width="6.5" height="8" fill="#52b8ff"/><path d="M122.6,0 v9" stroke="#e0f4ff" stroke-width="0.9"/><rect x="124" y="4.6" width="5" height="1.5" fill="#f0faff"/><path d="M118,14.8 q-1.5,-4 2.5,-4.6 q1,-2.6 4,-2 q2.5,-2 4.5,0.4 q3,-0.2 3.4,2.6 q1.5,1.4 0,3.6 z" fill="url(#gCloud)" stroke="#4a5e90" stroke-width="1"/><path d="M153,8 L153,15.6 A7.6,7.6 0 0 0 159.6,4.2 z" fill="url(#gSig)" opacity="0.9"/><circle cx="153" cy="8" r="7.4" fill="none" stroke="#4a7ad0" stroke-width="1" opacity="0.75"/><circle cx="153" cy="8" r="4.5" fill="none" stroke="#6a90d8" stroke-width="1" opacity="0.6"/><circle cx="153" cy="7.8" r="1.9" fill="#2a5ad0"/><path d="M153.2,8 v7.6" stroke="#20a020" stroke-width="1.3"/><path d="M172.5,7 L187.5,7 L180.6,15.7 L179.2,15.7 z" fill="url(#gFun)" stroke="#c89a20" stroke-width="0.8"/><path d="M172.5,5.5 q1,-2.5 4.5,-2.5 q1.5,-3.5 5,-3 q2,0 2.5,2.8 q3.5,0.3 3.2,2.2 q-0.5,2.2 -7.5,2.4 q-6.5,0.2 -7.7,-1.9 z" fill="#6cc0f0" stroke="#2a88c0" stroke-width="0.9"/><circle cx="184.4" cy="11.8" r="4.3" fill="#e02a10" stroke="#b01000" stroke-width="0.6"/><rect x="183" y="10.4" width="2.8" height="2.8" fill="#fff"/><text x="193" y="11" font-family="'Liberation Sans', 'Noto Sans CJK SC', 'WenQuanYi Zen Hei', sans-serif" font-size="11.8px" fill="#111">自动交易</text><rect x="248" y="1" width="1" height="17" fill="#a0a0a0" shape-rendering="crispEdges"/><rect x="249" y="1" width="1" height="17" fill="#fbfbfb" shape-rendering="crispEdges"/><rect x="252" y="1" width="3" height="1" fill="#a8a8a8" shape-rendering="crispEdges"/><rect x="252" y="3" width="3" height="1" fill="#a8a8a8" shape-rendering="crispEdges"/><rect x="252" y="5" width="3" height="1" fill="#a8a8a8" shape-rendering="crispEdges"/><rect x="252" y="7" width="3" height="1" fill="#a8a8a8" shape-rendering="crispEdges"/><rect x="252" y="9" width="3" height="1" fill="#a8a8a8" shape-rendering="crispEdges"/><rect x="252" y="11" width="3" height="1" fill="#a8a8a8" shape-rendering="crispEdges"/><rect x="252" y="13" width="3" height="1" fill="#a8a8a8" shape-rendering="crispEdges"/><rect x="252" y="15" width="3" height="1" fill="#a8a8a8" shape-rendering="crispEdges"/><rect x="252" y="17" width="3" height="1" fill="#a8a8a8" shape-rendering="crispEdges"/><path d="M266.5,3 v13 M264,13.5 h13" fill="none" stroke="#555" stroke-width="1.2"/><polygon points="266.5,1.3 264.7,4 268.3,4" fill="#555"/><polygon points="278.6,13.5 276,11.7 276,15.3" fill="#555"/><path d="M272.5,3.2 v8.5 M272.5,4.4 h2.5 M272.5,10.4 h-2.5" fill="none" stroke="#149014" stroke-width="1.2"/><rect x="287" y="0" width="24" height="19" fill="#f7f7f7" shape-rendering="crispEdges"/><rect x="286" y="1" width="1" height="17" fill="#a0a0a0" shape-rendering="crispEdges"/><rect x="287" y="1" width="1" height="17" fill="#fbfbfb" shape-rendering="crispEdges"/><path d="M294.5,3 v13 M292,13.5 h13" fill="none" stroke="#555" stroke-width="1.2"/><polygon points="294.5,1.3 292.7,4 296.3,4" fill="#555"/><polygon points="306.6,13.5 304,11.7 304,15.3" fill="#555"/><path d="M300.6,0 v12" stroke="#118a11" stroke-width="1.2"/><rect x="298.6" y="2.6" width="4" height="7" fill="#3ee65a" stroke="#118a11" stroke-width="1.1"/><path d="M322.5,3 v13 M320,13.5 h13" fill="none" stroke="#555" stroke-width="1.2"/><polygon points="322.5,1.3 320.7,4 324.3,4" fill="#555"/><polygon points="334.6,13.5 332,11.7 332,15.3" fill="#555"/><path d="M321.5,10.5 q3,-5.5 5.8,-5.5 q2.5,0 5.2,4.3" fill="none" stroke="#2a9a2a" stroke-width="1.1"/><rect x="343" y="1" width="1" height="17" fill="#a0a0a0" shape-rendering="crispEdges"/><rect x="344" y="1" width="1" height="17" fill="#fbfbfb" shape-rendering="crispEdges"/><line x1="362" y1="9.5" x2="367" y2="14.5" stroke="#c8a020" stroke-width="2.4"/><circle cx="358" cy="5.5" r="5" fill="#d8e8f8" stroke="#3a7ad0" stroke-width="1.2"/><rect x="355" y="5" width="6" height="1.5" fill="#3a7ad0"/><rect x="357.25" y="2.3" width="1.5" height="6" fill="#3a7ad0"/><line x1="390" y1="9.5" x2="395" y2="14.5" stroke="#c8a020" stroke-width="2.4"/><circle cx="386" cy="5.5" r="5" fill="#d8e8f8" stroke="#3a7ad0" stroke-width="1.2"/><rect x="383" y="5" width="6" height="1.5" fill="#3a7ad0"/><rect x="408" y="0" width="7.5" height="7.5" fill="#2e9a2e"/><rect x="409.5" y="3" width="4.5" height="2" fill="#fff"/><rect x="416" y="0" width="7.5" height="7.5" fill="#2a50c8"/><rect x="417.5" y="3" width="4.5" height="2" fill="#fff"/><rect x="408" y="8" width="7.5" height="7.5" fill="#2a50c8"/><rect x="409.5" y="11" width="4.5" height="2" fill="#fff"/><rect x="416" y="8" width="7.5" height="7.5" fill="#2e9a2e"/><rect x="417.5" y="11" width="4.5" height="2" fill="#fff"/><rect x="433" y="1" width="1" height="17" fill="#a0a0a0" shape-rendering="crispEdges"/><rect x="434" y="1" width="1" height="17" fill="#fbfbfb" shape-rendering="crispEdges"/><rect x="438" y="1" width="1" height="17" fill="#a0a0a0" shape-rendering="crispEdges"/><rect x="439" y="1" width="1" height="17" fill="#fbfbfb" shape-rendering="crispEdges"/><rect x="440" y="0" width="23" height="19" fill="#f7f7f7" shape-rendering="crispEdges"/><rect x="466" y="1" width="1" height="17" fill="#a0a0a0" shape-rendering="crispEdges"/><rect x="467" y="1" width="1" height="17" fill="#fbfbfb" shape-rendering="crispEdges"/><rect x="468" y="0" width="23" height="19" fill="#f7f7f7" shape-rendering="crispEdges"/><path d="M446.5,3 v13 M444,13.5 h13" fill="none" stroke="#555" stroke-width="1.2"/><polygon points="446.5,1.3 444.7,4 448.3,4" fill="#555"/><polygon points="458.6,13.5 456,11.7 456,15.3" fill="#555"/><polygon points="451.6,4.3 451.6,10.8 455.2,7.5" fill="#7ee07e" stroke="#149a14" stroke-width="1.1"/><path d="M474.5,3 v13 M472,13.5 h13" fill="none" stroke="#555" stroke-width="1.2"/><polygon points="474.5,1.3 472.7,4 476.3,4" fill="#555"/><polygon points="486.6,13.5 484,11.7 484,15.3" fill="#555"/><path d="M480.3,2 v10" stroke="#1a6aa8" stroke-width="1.2"/><polygon points="481.2,7.5 484.5,5.2 483.8,7.5 484.5,9.8" fill="#e05a10"/><path d="M483.5,7.5 h2.6" stroke="#c04a10" stroke-width="1.1"/><rect x="495" y="1" width="1" height="17" fill="#a0a0a0" shape-rendering="crispEdges"/><rect x="496" y="1" width="1" height="17" fill="#fbfbfb" shape-rendering="crispEdges"/><path d="M505.5,0.5 h8 l2.5,2.5 v10 h-10.5 z" fill="#f4f4f4" stroke="#6b6b6b" stroke-width="1"/><path d="M508,4 q-1,0 -1,2 v3 q0,2 1,2" fill="none" stroke="#555" stroke-width="0.8"/><path d="M511,7 h3 v3.5 h3.5 v3 h-3.5 v3.5 h-3 v-3.5 h-3.5 v-3 h3.5 z" fill="#2ecc2e" stroke="#15a015" stroke-width="0.8"/><polygon points="527,7 533,7 530,10" fill="#000"/><circle cx="550.5" cy="8" r="7.5" fill="#2a78d0"/><circle cx="550.5" cy="8" r="5.3" fill="#f4f8ff"/><path d="M550.5,4 v4 h2.5" fill="none" stroke="#333" stroke-width="1"/><polygon points="566,7 572,7 569,10" fill="#000"/><rect x="582.5" y="1.5" width="15" height="13" fill="#fff" stroke="#3a6ab8" stroke-width="1"/><rect x="583" y="2" width="14" height="2" fill="#3a6ab8"/><path d="M584,7.5 l3,-1 l3,1 l3,-1.5 l3,1" fill="none" stroke="#c03020" stroke-width="0.9"/><path d="M584,12 l3,-1.5 l3,1 l3,-1.5 l3,1" fill="none" stroke="#20a020" stroke-width="0.9"/><polygon points="605,7 611,7 608,10" fill="#000"/><rect x="616" y="1" width="1" height="17" fill="#a0a0a0" shape-rendering="crispEdges"/><rect x="617" y="1" width="1" height="17" fill="#fbfbfb" shape-rendering="crispEdges"/><rect x="620" y="1" width="3" height="1" fill="#a8a8a8" shape-rendering="crispEdges"/><rect x="620" y="3" width="3" height="1" fill="#a8a8a8" shape-rendering="crispEdges"/><rect x="620" y="5" width="3" height="1" fill="#a8a8a8" shape-rendering="crispEdges"/><rect x="620" y="7" width="3" height="1" fill="#a8a8a8" shape-rendering="crispEdges"/><rect x="620" y="9" width="3" height="1" fill="#a8a8a8" shape-rendering="crispEdges"/><rect x="620" y="11" width="3" height="1" fill="#a8a8a8" shape-rendering="crispEdges"/><rect x="620" y="13" width="3" height="1" fill="#a8a8a8" shape-rendering="crispEdges"/><rect x="620" y="15" width="3" height="1" fill="#a8a8a8" shape-rendering="crispEdges"/><rect x="620" y="17" width="3" height="1" fill="#a8a8a8" shape-rendering="crispEdges"/><rect x="626" y="0" width="26" height="19" fill="#f7f7f7" shape-rendering="crispEdges"/><path d="M634,2 v11 l2.5,-2.5 l2,4 l1.5,-0.8 l-2,-3.8 h3.5 z" fill="#444"/><path d="M659,8.5 h15 M666.5,1 v15" stroke="#555" stroke-width="1" shape-rendering="crispEdges"/><rect x="683" y="1" width="1" height="17" fill="#a0a0a0" shape-rendering="crispEdges"/><rect x="684" y="1" width="1" height="17" fill="#fbfbfb" shape-rendering="crispEdges"/><path d="M700.5,3 v11" stroke="#555" stroke-width="1.2" shape-rendering="crispEdges"/><path d="M723,8.5 h12" stroke="#555" stroke-width="1.2" shape-rendering="crispEdges"/><path d="M751,15 l12,-12" stroke="#555" stroke-width="1.1"/><path d="M777,9 l10,-8 M779,13 l10,-8 M780,6 v5 M783,4 v5 M786,2 v5" fill="none" stroke="#555" stroke-width="1"/><text x="788" y="17" font-family="'Liberation Sans', Arial, sans-serif" font-size="6.5px" font-weight="bold" fill="#444">E</text><line x1="806" y1="1.5" x2="819" y2="1.5" stroke="#555" stroke-width="1" stroke-dasharray="1,1"/><line x1="806" y1="5.5" x2="819" y2="5.5" stroke="#555" stroke-width="1" stroke-dasharray="1,1"/><line x1="806" y1="9.5" x2="819" y2="9.5" stroke="#555" stroke-width="1" stroke-dasharray="1,1"/><line x1="806" y1="13.5" x2="815" y2="13.5" stroke="#555" stroke-width="1" stroke-dasharray="1,1"/><text x="816" y="17" font-family="'Liberation Sans', Arial, sans-serif" font-size="6.5px" font-weight="bold" fill="#444">F</text><text x="836.5" y="13" font-family="'Liberation Sans', Arial, sans-serif" font-size="12px" font-weight="bold" fill="#555">A</text><rect x="862.5" y="2.5" width="12" height="12" fill="none" stroke="#666" stroke-width="1" stroke-dasharray="1,1"/><text x="864.6" y="12.6" font-family="'Liberation Sans', Arial, sans-serif" font-size="11px" font-weight="bold" fill="#555">T</text><path d="M891,3.5 l3,-2.5 l3,2.5 z M893,8 l2,2.5 l4.5,-5 M898,11 l3,-2 l3,2 l-3,2.5 z" fill="#444" stroke="#444" stroke-width="1.1"/><polygon points="911,7 917,7 914,10" fill="#000"/><rect x="922" y="1" width="1" height="17" fill="#a0a0a0" shape-rendering="crispEdges"/><rect x="923" y="1" width="1" height="17" fill="#fbfbfb" shape-rendering="crispEdges"/><rect x="926" y="1" width="3" height="1" fill="#a8a8a8" shape-rendering="crispEdges"/><rect x="926" y="3" width="3" height="1" fill="#a8a8a8" shape-rendering="crispEdges"/><rect x="926" y="5" width="3" height="1" fill="#a8a8a8" shape-rendering="crispEdges"/><rect x="926" y="7" width="3" height="1" fill="#a8a8a8" shape-rendering="crispEdges"/><rect x="926" y="9" width="3" height="1" fill="#a8a8a8" shape-rendering="crispEdges"/><rect x="926" y="11" width="3" height="1" fill="#a8a8a8" shape-rendering="crispEdges"/><rect x="926" y="13" width="3" height="1" fill="#a8a8a8" shape-rendering="crispEdges"/><rect x="926" y="15" width="3" height="1" fill="#a8a8a8" shape-rendering="crispEdges"/><rect x="926" y="17" width="3" height="1" fill="#a8a8a8" shape-rendering="crispEdges"/><rect x="1073" y="0" width="24" height="19" fill="#f7f7f7" shape-rendering="crispEdges"/><rect x="1072" y="0" width="1" height="19" fill="#a8a8a8" shape-rendering="crispEdges"/><text x="937.3" y="12.3" font-family="'Liberation Sans', Arial, sans-serif" font-size="10.6px" fill="#333">M1</text><text x="965" y="12.3" font-family="'Liberation Sans', Arial, sans-serif" font-size="10.6px" fill="#333">M5</text><text x="991.5" y="12.3" font-family="'Liberation Sans', Arial, sans-serif" font-size="10.6px" fill="#333">M15</text><text x="1019.3" y="12.3" font-family="'Liberation Sans', Arial, sans-serif" font-size="10.6px" fill="#333">M30</text><text x="1050" y="12.3" font-family="'Liberation Sans', Arial, sans-serif" font-size="10.6px" fill="#333">H1</text><text x="1077" y="12.3" font-family="'Liberation Sans', Arial, sans-serif" font-size="10.6px" fill="#333">H4</text><text x="1106" y="12.3" font-family="'Liberation Sans', Arial, sans-serif" font-size="10.6px" fill="#333">D1</text><text x="1134" y="12.3" font-family="'Liberation Sans', Arial, sans-serif" font-size="10.6px" fill="#333">W1</text><text x="1160" y="12.3" font-family="'Liberation Sans', Arial, sans-serif" font-size="10.6px" fill="#333">MN</text><rect x="1183" y="1" width="1" height="17" fill="#a0a0a0" shape-rendering="crispEdges"/><rect x="1184" y="1" width="1" height="17" fill="#fbfbfb" shape-rendering="crispEdges"/><circle cx="1653.6" cy="5.2" r="3.8" fill="#fff" stroke="#2a64d0" stroke-width="1.4"/><line x1="1651" y1="8" x2="1646" y2="13" stroke="#2a5cc8" stroke-width="2.4"/><path d="M1670.5,10 q0,-5 6,-5 q6,0 6,5 q0,4 -6,4 h-2 l-2,2.5 v-2.8 q-2,-1 -2,-3.7 z" fill="#e8eaf0" stroke="#a8a8a8" stroke-width="0.9"/><circle cx="1684.2" cy="5.9" r="8.3" fill="url(#gBadge)"/><text x="1684" y="10" font-family="Liberation Serif, serif" font-size="13.5px" fill="#fff" stroke="#fff" stroke-width="0.3" text-anchor="middle">1</text></g>
</svg></body></html>
